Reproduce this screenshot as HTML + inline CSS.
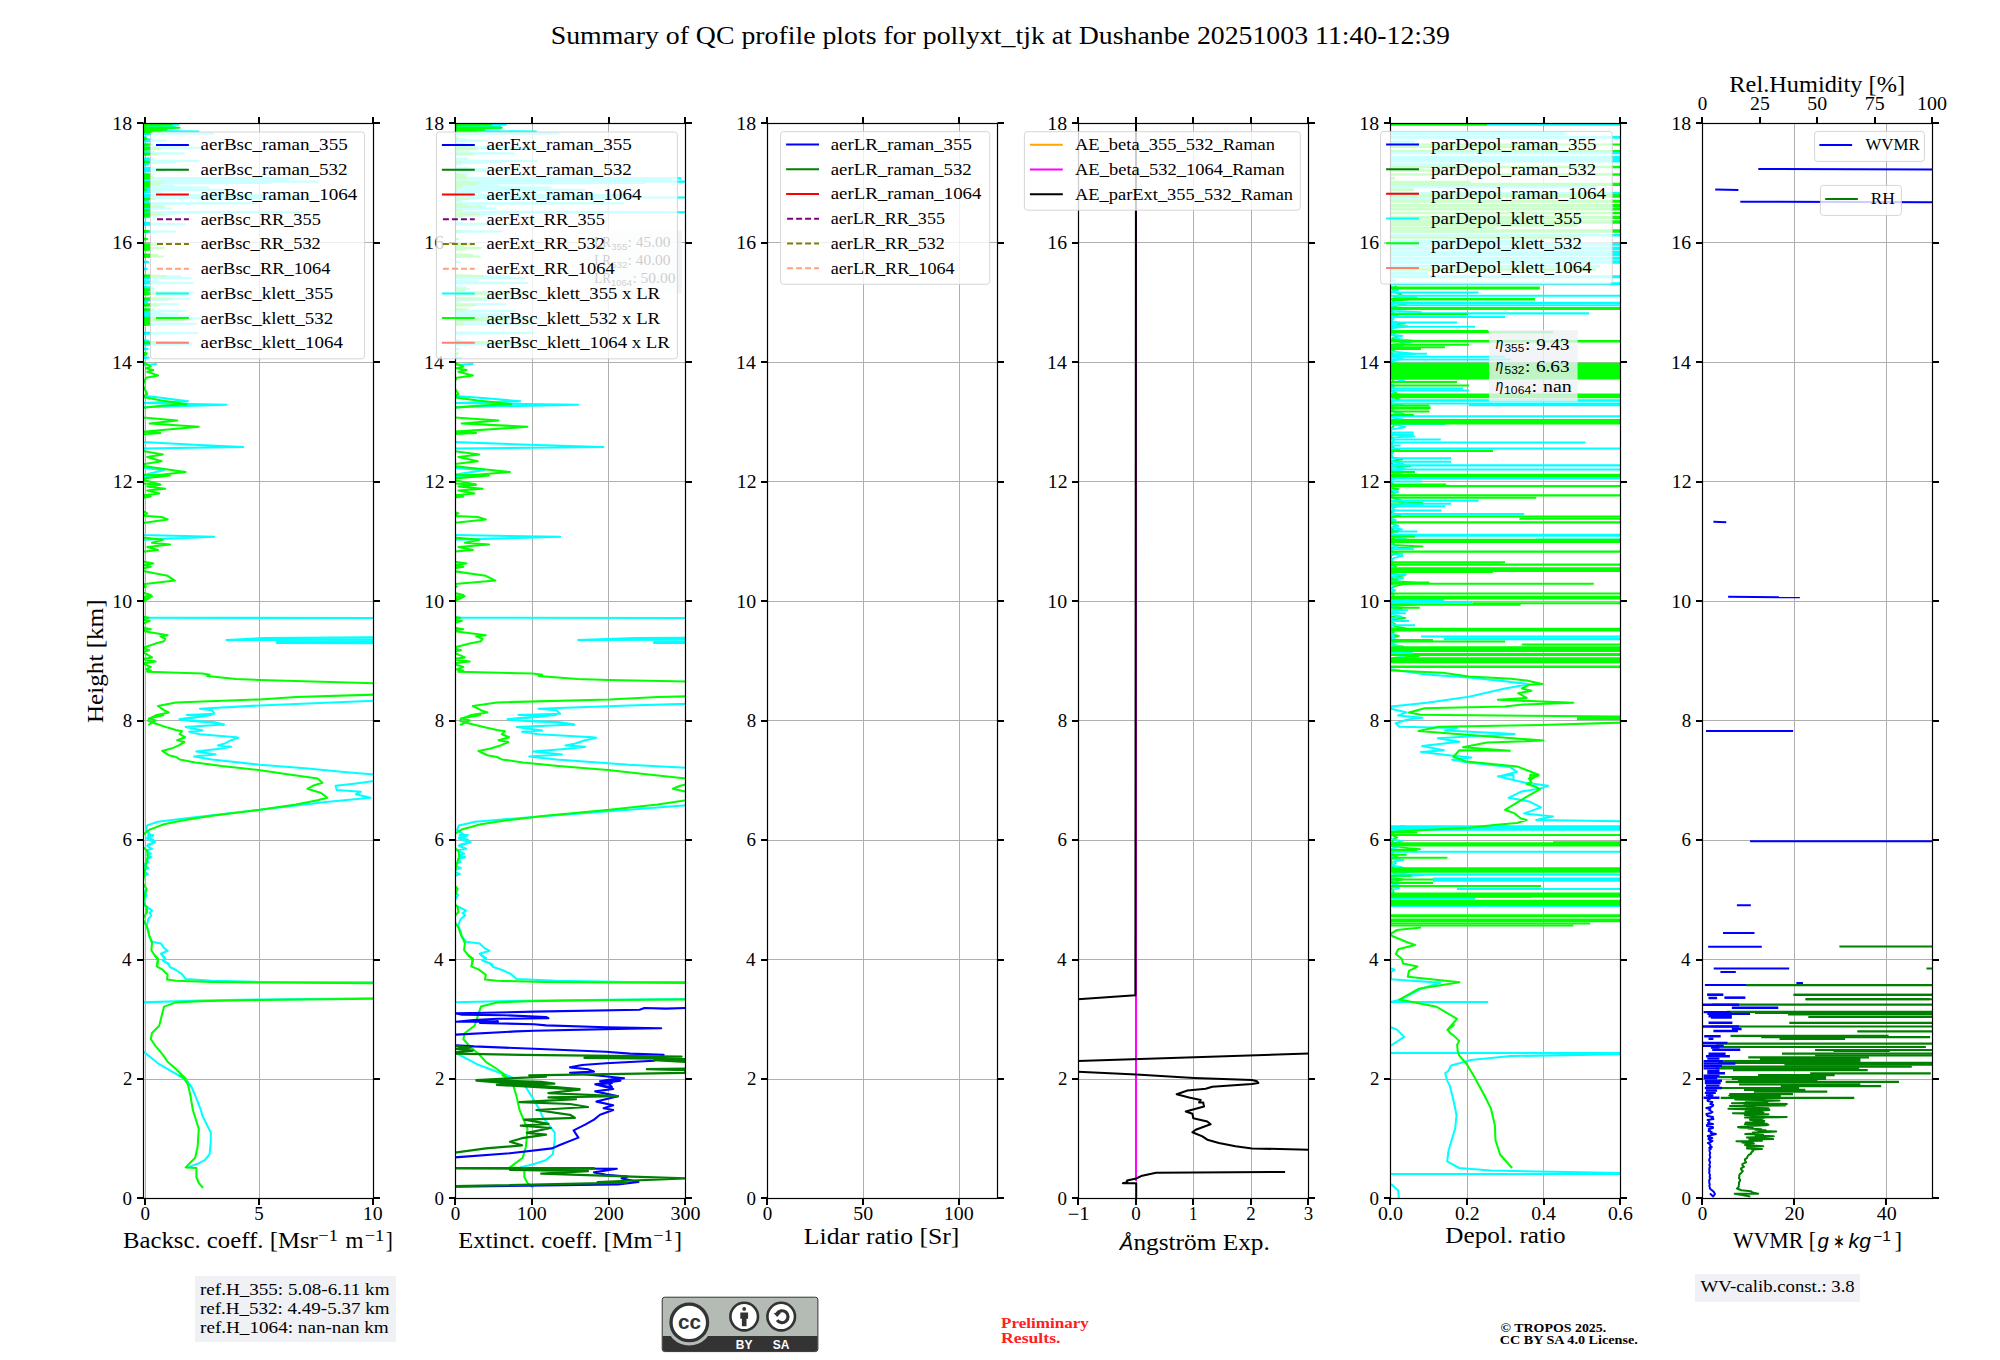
<!DOCTYPE html><html><head><meta charset="utf-8"><style>html,body{margin:0;padding:0;background:#fff;overflow:hidden;}svg{display:block;}domain{display:none;}</style></head><body><domain style="display:none">Chart</domain>
<svg width="2000" height="1360" viewBox="0 0 2000 1360" font-family="'Liberation Serif', serif">
<rect width="2000" height="1360" fill="#fff"/>
<defs>
<clipPath id="c0"><rect x="143.50" y="123.5" width="230.0" height="1075.00"/></clipPath>
<clipPath id="c1"><rect x="455.50" y="123.5" width="230.0" height="1075.00"/></clipPath>
<clipPath id="c2"><rect x="767.50" y="123.5" width="230.0" height="1075.00"/></clipPath>
<clipPath id="c3"><rect x="1078.50" y="123.5" width="230.0" height="1075.00"/></clipPath>
<clipPath id="c4"><rect x="1390.50" y="123.5" width="230.0" height="1075.00"/></clipPath>
<clipPath id="c5"><rect x="1702.50" y="123.5" width="230.0" height="1075.00"/></clipPath>
</defs>
<text x="550.72" y="43.80" font-size="24.98" textLength="899.16" lengthAdjust="spacingAndGlyphs" fill="#000" >Summary of QC profile plots for pollyxt_tjk at Dushanbe 20251003 11:40-12:39</text>
<line x1="145.50" y1="123.5" x2="145.50" y2="1198.5" stroke="#b0b0b0" stroke-width="1"/>
<line x1="259.50" y1="123.5" x2="259.50" y2="1198.5" stroke="#b0b0b0" stroke-width="1"/>
<line x1="373.50" y1="123.5" x2="373.50" y2="1198.5" stroke="#b0b0b0" stroke-width="1"/>
<line x1="143.5" y1="1198.50" x2="373.50" y2="1198.50" stroke="#b0b0b0" stroke-width="1"/>
<line x1="143.5" y1="1079.50" x2="373.50" y2="1079.50" stroke="#b0b0b0" stroke-width="1"/>
<line x1="143.5" y1="959.50" x2="373.50" y2="959.50" stroke="#b0b0b0" stroke-width="1"/>
<line x1="143.5" y1="840.50" x2="373.50" y2="840.50" stroke="#b0b0b0" stroke-width="1"/>
<line x1="143.5" y1="720.50" x2="373.50" y2="720.50" stroke="#b0b0b0" stroke-width="1"/>
<line x1="143.5" y1="601.50" x2="373.50" y2="601.50" stroke="#b0b0b0" stroke-width="1"/>
<line x1="143.5" y1="481.50" x2="373.50" y2="481.50" stroke="#b0b0b0" stroke-width="1"/>
<line x1="143.5" y1="362.50" x2="373.50" y2="362.50" stroke="#b0b0b0" stroke-width="1"/>
<line x1="143.5" y1="242.50" x2="373.50" y2="242.50" stroke="#b0b0b0" stroke-width="1"/>
<line x1="143.5" y1="123.50" x2="373.50" y2="123.50" stroke="#b0b0b0" stroke-width="1"/>
<path d="M137.00 1198.00H143.50M373.50 1198.00H380.00M137.00 1079.00H143.50M373.50 1079.00H380.00M137.00 960.00H143.50M373.50 960.00H380.00M137.00 840.00H143.50M373.50 840.00H380.00M137.00 721.00H143.50M373.50 721.00H380.00M137.00 601.00H143.50M373.50 601.00H380.00M137.00 482.00H143.50M373.50 482.00H380.00M137.00 362.00H143.50M373.50 362.00H380.00M137.00 243.00H143.50M373.50 243.00H380.00M137.00 123.00H143.50M373.50 123.00H380.00M145.00 1198.50V1205.00M145.00 123.50V117.00M259.00 1198.50V1205.00M259.00 123.50V117.00M373.00 1198.50V1205.00M373.00 123.50V117.00" stroke="#000" stroke-width="2" fill="none"/>
<text x="122.61" y="1204.80" font-size="17.92" textLength="9.51" lengthAdjust="spacingAndGlyphs" fill="#000" >0</text>
<text x="123.03" y="1085.36" font-size="17.92" textLength="9.40" lengthAdjust="spacingAndGlyphs" fill="#000" >2</text>
<text x="122.14" y="965.91" font-size="17.92" textLength="9.55" lengthAdjust="spacingAndGlyphs" fill="#000" >4</text>
<text x="122.52" y="846.47" font-size="17.92" textLength="9.45" lengthAdjust="spacingAndGlyphs" fill="#000" >6</text>
<text x="122.65" y="727.02" font-size="17.92" textLength="9.46" lengthAdjust="spacingAndGlyphs" fill="#000" >8</text>
<text x="112.30" y="607.58" font-size="17.92" textLength="19.84" lengthAdjust="spacingAndGlyphs" fill="#000" >10</text>
<text x="112.84" y="488.13" font-size="17.92" textLength="19.64" lengthAdjust="spacingAndGlyphs" fill="#000" >12</text>
<text x="112.08" y="368.69" font-size="17.92" textLength="19.61" lengthAdjust="spacingAndGlyphs" fill="#000" >14</text>
<text x="112.27" y="249.24" font-size="17.92" textLength="19.72" lengthAdjust="spacingAndGlyphs" fill="#000" >16</text>
<text x="112.30" y="129.80" font-size="17.92" textLength="19.84" lengthAdjust="spacingAndGlyphs" fill="#000" >18</text>
<text x="140.45" y="1220.00" font-size="17.92" textLength="9.51" lengthAdjust="spacingAndGlyphs" fill="#000" >0</text>
<text x="254.32" y="1220.00" font-size="17.92" textLength="9.44" lengthAdjust="spacingAndGlyphs" fill="#000" >5</text>
<text x="362.79" y="1220.00" font-size="17.92" textLength="19.84" lengthAdjust="spacingAndGlyphs" fill="#000" >10</text>
<g clip-path="url(#c0)" fill="none" stroke-linejoin="round" stroke-linecap="butt">
<polyline points="142.8,123.8 178.5,124.4 142.8,125.0 142.8,125.9 174.6,126.5 142.8,127.1 142.8,127.7 174.9,128.3 142.8,128.9 142.8,129.5 149.2,130.1 142.8,130.7 142.8,131.0 198.4,131.6 142.8,132.2 142.8,132.9 213.4,133.5 142.8,134.1 142.8,135.1 142.8,137.0 146.2,137.6 142.8,138.2 142.8,138.8 152.2,139.4 142.8,140.0 142.8,140.2 165.9,140.8 142.8,141.4 142.8,141.8 142.8,143.6 142.8,145.4 142.8,147.1 199.8,147.7 142.8,148.3 142.8,149.2 142.8,151.3 154.0,151.9 142.8,152.5 142.8,152.8 184.2,153.4 142.8,154.0 142.8,154.4 142.8,156.0 142.8,158.2 153.1,158.8 142.8,159.4 142.8,160.4 198.6,161.0 142.8,161.6 142.8,162.0 175.6,162.6 142.8,163.2 142.8,163.9 148.3,164.5 142.8,165.1 142.8,165.5 142.8,167.6 154.7,168.2 142.8,168.8 142.8,168.9 186.2,169.5 142.8,170.1 142.8,170.3 165.0,170.9 142.8,171.5 142.8,171.7 142.8,172.9 142.8,174.0 153.2,174.6 142.8,175.2 142.8,175.5 142.8,177.7 294.4,178.3 142.8,178.9 142.8,179.1 287.8,179.7 142.8,180.3 142.8,181.0 317.6,181.6 142.8,182.2 142.8,182.4 270.4,183.0 142.8,183.6 142.8,183.9 151.8,184.5 142.8,185.1 142.8,185.2 173.7,185.8 142.8,186.4 142.8,187.0 208.2,187.6 142.8,188.2 142.8,189.2 230.7,189.8 142.8,190.4 142.8,191.2 161.3,191.8 142.8,192.4 142.8,193.3 142.8,194.7 263.5,195.3 142.8,195.9 142.8,196.9 308.8,197.5 142.8,198.1 142.8,198.9 142.8,200.6 148.5,201.2 142.8,201.8 142.8,202.7 256.4,203.3 142.8,203.9 142.8,204.2 142.8,206.1 164.1,206.7 142.8,207.3 142.8,208.0 171.5,208.6 142.8,209.2 142.8,209.8 142.8,211.7 301.5,212.3 142.8,212.9 142.8,213.1 177.6,213.7 142.8,214.3 142.8,214.7 164.2,215.3 142.8,215.9 142.8,216.3 149.2,216.9 142.8,217.5 142.8,217.9 142.8,220.3 142.8,222.4 149.4,223.0 142.8,223.6 142.8,223.6 184.9,224.2 142.8,224.8 142.8,225.5 142.8,226.5 142.8,228.3 142.8,229.7 142.8,230.9 175.6,231.5 142.8,232.1 142.8,233.0 142.8,235.0 142.8,237.4 142.8,239.4 142.8,241.7 142.8,243.9 142.8,245.8 142.8,247.3 142.8,249.3 142.8,251.2 142.8,253.5 142.8,255.1 142.8,257.0 142.8,259.2 142.8,261.4 148.1,262.0 142.8,262.6 142.8,263.0 142.8,265.1 142.8,267.0 142.8,268.4 146.8,269.0 142.8,269.6 142.8,270.3 142.8,271.5 142.8,273.5 142.8,275.9 180.8,276.5 142.8,277.1 142.8,277.3 190.6,277.9 142.8,278.5 142.8,279.4 142.8,280.9 159.2,281.5 142.8,282.1 142.8,282.3 192.8,282.9 142.8,283.5 142.8,284.3 142.8,286.8 151.9,287.4 142.8,288.0 142.8,288.4 154.0,289.0 142.8,289.6 142.8,290.0 142.8,291.8 193.0,292.4 142.8,293.0 142.8,293.9 148.0,294.5 142.8,295.1 142.8,295.2 142.8,296.2 142.8,298.1 189.5,298.7 142.8,299.3 142.8,299.3 167.2,299.9 142.8,300.5 142.8,300.5 142.8,301.9 147.1,302.5 142.8,303.1 142.8,303.7 178.4,304.3 142.8,304.9 142.8,305.6 142.8,308.0 142.8,309.3 152.3,309.9 142.8,310.5 142.8,310.5 184.1,311.1 142.8,311.7 142.8,311.9 160.8,312.5 142.8,313.1 142.8,313.8 177.3,314.4 142.8,315.0 142.8,315.8 189.6,316.4 142.8,317.0 142.8,317.9 199.9,318.5 142.8,319.1 142.8,319.8 167.1,320.4 142.8,321.0 142.8,321.6 142.8,323.2 195.9,323.8 142.8,324.4 142.8,325.2 142.8,326.9 142.8,328.2 142.8,330.4 142.8,332.5 197.4,333.1 142.8,333.7 142.8,334.7 142.8,336.5 142.8,338.0 142.8,340.2 148.3,340.8 142.8,341.4 142.8,341.9 187.9,342.5 142.8,343.1 142.8,343.6 190.8,344.2 142.8,344.8 142.8,344.8 142.8,346.1 142.8,348.3 147.6,348.9 142.8,349.5 142.8,350.0 142.8,352.2 142.8,354.7 142.8,357.1 148.7,357.7 142.8,358.3 142.8,358.8 142.8,360.9" stroke="#00ffff" stroke-width="2.05"/>
<polyline points="142.8,123.8 171.5,124.4 142.8,125.0 142.8,125.7 146.1,126.3 142.8,126.9 142.8,127.2 179.5,127.8 142.8,128.4 142.8,129.1 166.6,129.7 142.8,130.3 142.8,131.0 161.1,131.6 142.8,132.2 142.8,132.4 142.8,133.4 142.8,134.6 142.8,136.1 142.8,138.3 146.5,138.9 142.8,139.5 142.8,140.4 142.8,141.6 142.8,144.0 152.2,144.6 142.8,145.2 142.8,145.3 142.8,147.3 157.9,147.9 142.8,148.5 142.8,148.5 160.6,149.1 142.8,149.7 142.8,150.1 142.8,152.0 142.8,153.6 158.5,154.2 142.8,154.8 142.8,155.8 142.8,157.7 142.8,159.3 142.8,161.3 148.9,161.9 142.8,162.5 142.8,162.9 142.8,165.1 142.8,166.1 142.8,167.8 142.8,169.1 142.8,170.7 142.8,171.8 142.8,173.1 142.8,174.2 150.7,174.8 142.8,175.4 142.8,176.0 152.9,176.6 142.8,177.2 142.8,177.4 153.2,178.0 142.8,178.6 142.8,179.6 142.8,182.0 163.2,182.6 142.8,183.2 142.8,183.6 159.0,184.2 142.8,184.8 142.8,185.7 149.4,186.3 142.8,186.9 142.8,187.6 142.8,189.0 146.3,189.6 142.8,190.2 142.8,190.8 142.8,193.3 142.8,194.4 142.8,196.5 142.8,198.5 154.3,199.1 142.8,199.7 142.8,200.2 142.8,201.6 142.8,203.9 149.8,204.5 142.8,205.1 142.8,206.0 163.6,206.6 142.8,207.2 142.8,207.7 142.8,209.8 149.7,210.4 142.8,211.0 142.8,211.2 142.8,213.3 162.2,213.9 142.8,214.5 142.8,214.9 152.4,215.5 142.8,216.1 142.8,217.1 142.8,219.0 142.8,221.4 142.8,223.1 142.8,225.4 142.8,227.3 142.8,228.8 142.8,230.7 148.6,231.3 142.8,231.9 142.8,232.8 142.8,235.1 142.8,236.9 142.8,238.5 147.0,239.1 142.8,239.7 142.8,240.0 142.8,242.1 142.8,244.0 158.8,244.6 142.8,245.2 142.8,245.9 150.7,246.5 142.8,247.1 142.8,247.5 163.7,248.1 142.8,248.7 142.8,248.8 152.4,249.4 142.8,250.0 142.8,250.7 142.8,252.7 142.8,254.3 157.4,254.9 142.8,255.5 142.8,255.9 163.1,256.5 142.8,257.1 142.8,257.5 142.8,258.9 142.8,260.0 142.8,261.4 142.8,263.0 142.8,265.4 142.8,267.4 142.8,269.1 142.8,271.4 142.8,273.1 142.8,275.3 165.7,275.9 142.8,276.5 142.8,277.3 142.8,279.3 142.8,281.8 142.8,283.8 142.8,285.9 142.8,287.6 142.8,289.1 152.4,289.7 142.8,290.3 142.8,290.9 146.8,291.5 142.8,292.1 142.8,292.9 186.4,293.5 142.8,294.1 142.8,294.7 142.8,297.0 142.8,298.4 170.7,299.0 142.8,299.6 142.8,300.5 142.8,302.7 142.8,304.6 159.7,305.2 142.8,305.8 142.8,306.2 142.8,307.8 142.8,309.0 153.4,309.6 142.8,310.2 142.8,311.2 142.8,312.3 142.8,314.6 142.8,316.1 142.8,317.6 182.5,318.2 142.8,318.8 142.8,319.6 183.3,320.2 142.8,320.8 142.8,320.8 142.8,321.9 150.2,322.5 142.8,323.1 142.8,323.8 151.1,324.4 142.8,325.0 142.8,325.2 142.8,327.5 142.8,328.6 142.8,330.4 142.8,332.2 142.8,334.4 142.8,336.4 142.8,338.3 142.8,339.9 142.8,342.0 185.8,342.6 142.8,343.2 142.8,343.7 142.8,345.7 142.8,347.8 142.8,349.4 142.8,351.5 142.8,352.7 146.8,353.3 142.8,353.9 142.8,354.0 146.0,354.6 142.8,355.2 142.8,355.4 142.8,357.4 142.8,359.9" stroke="#00ff00" stroke-width="2.05"/>
<polyline points="156.8,364.0 142.8,365.2 142.8,395.8 159.2,397.6 188.0,401.2 142.8,403.0 226.4,404.8 142.8,407.2 142.8,442.0 198.8,445.0 243.2,447.0 142.8,448.6 142.8,467.8 164.0,470.2 142.8,475.0 142.8,485.0" stroke="#00ffff" stroke-width="2.05"/>
<polyline points="142.8,362.2 150.8,366.4 146.0,368.2 153.2,370.0 147.2,371.8 158.0,375.4 146.0,377.8 142.8,385.0 147.2,394.0 142.8,397.0 161.6,400.6 186.8,404.2 164.0,405.4 142.8,407.8 142.8,417.4 177.2,420.4 149.6,423.4 198.8,426.8 142.8,431.8 160.4,433.0 142.8,434.2 142.8,451.0 162.8,454.6 147.2,457.0 161.6,461.2 142.8,464.2 142.8,466.0 185.6,472.0 147.2,476.2 142.8,479.8 160.4,484.6" stroke="#00ff00" stroke-width="2.05"/>
<polyline points="142.8,475.0 162.8,476.2 142.8,477.4 142.8,535.0 214.4,536.8 142.8,539.8 142.8,605.0" stroke="#00ffff" stroke-width="2.05"/>
<polyline points="142.8,475.0 170.0,475.6 142.8,478.6 142.8,483.4 160.4,484.8 147.2,486.4 165.2,488.8 147.2,490.6 159.2,493.6 142.8,495.4 150.8,496.6 142.8,497.8 142.8,511.0 147.2,513.4 142.8,515.8 161.6,517.0 167.6,519.4 142.8,523.0 142.8,537.4 162.8,539.8 152.0,542.8 170.0,544.6 147.2,547.0 158.0,550.0 142.8,551.8 142.8,561.4 153.2,563.4 142.8,565.0 150.8,566.8 142.8,568.6 142.8,571.0 167.6,575.8 174.8,580.6 142.8,584.2 146.0,586.6 142.8,587.8 142.8,592.6 150.8,595.0 142.8,597.4 142.8,599.8" stroke="#00ff00" stroke-width="2.05"/>
<polyline points="142.8,595.0 142.8,617.8 375.2,618.0" stroke="#00ffff" stroke-width="2.05"/>
<polyline points="375.2,637.2 264.8,638.0 226.4,640.0 375.2,639.6" stroke="#00ffff" stroke-width="2.05"/>
<polyline points="375.2,641.2 276.8,642.0 276.8,643.0 375.2,643.2" stroke="#00ffff" stroke-width="2.05"/>
<polyline points="142.8,599.8 152.0,596.2 142.8,602.2 142.8,616.6 148.4,617.8 142.8,619.6 149.6,620.8 142.8,623.8 142.8,627.4 150.8,629.2 142.8,630.4 142.8,631.0 153.2,632.8 167.6,635.2 160.4,636.4 165.2,638.8 164.0,641.2 155.6,643.6 148.4,646.0 142.8,647.8 149.0,650.2 142.8,652.0 152.0,657.4 142.8,659.2 155.6,661.6 142.8,663.4 150.8,667.0 146.0,669.4 150.8,670.6 147.2,671.8 202.4,673.6 209.6,674.8 207.2,676.0 236.0,679.0 260.0,680.0 375.2,683.2" stroke="#00ff00" stroke-width="2.05"/>
<polyline points="375.2,694.6 296.0,697.0 260.0,699.4 176.0,702.4 158.0,706.0 164.0,710.2 168.8,712.4 156.8,715.0 149.6,718.6 155.6,720.4 148.4,725.0" stroke="#00ff00" stroke-width="2.05"/>
<polyline points="375.2,700.8 260.0,705.4 200.0,708.8 212.0,710.2 214.4,713.8 186.8,715.0 204.8,716.2 179.6,719.2 194.0,721.0 212.0,722.2 224.0,725.0" stroke="#00ffff" stroke-width="2.05"/>
<polyline points="212.0,715.0 179.6,719.2 192.8,721.0 214.4,722.2 224.0,724.6 185.6,727.0 202.4,730.6 189.2,731.8 200.0,734.2 236.0,737.2 238.4,737.8 231.2,740.2 224.0,743.8 218.0,745.6 231.2,746.8 221.6,748.6 196.4,751.6 215.6,754.6 194.0,756.4 212.0,759.4 260.0,764.8 308.0,768.4 344.0,772.0 375.2,774.6" stroke="#00ffff" stroke-width="2.05"/>
<polyline points="375.2,780.8 356.0,783.4 335.6,785.8 336.8,790.0 360.8,791.8 356.0,794.2 370.4,797.8 326.0,802.0 296.0,805.6 260.0,809.8 212.0,815.2 176.0,819.4 158.0,821.8 147.2,825.4 146.0,830.2 152.0,836.2 147.2,838.6 154.4,842.2 147.2,845.0" stroke="#00ffff" stroke-width="2.05"/>
<polyline points="164.0,715.0 149.0,718.6 148.4,721.0 156.8,724.0 167.6,727.6 176.0,730.0 182.0,731.2 179.6,734.2 185.0,737.2 177.2,740.2 184.4,742.0 178.4,745.6 171.2,748.6 162.2,751.0 168.8,755.2 176.0,757.0 179.6,759.4 195.2,762.4 221.6,766.0 258.8,770.0 284.0,773.8 317.6,778.6 322.4,782.8 312.8,785.8 307.4,788.8 321.2,793.0 327.2,797.8 317.6,800.2 296.0,804.4 260.0,809.8 212.0,815.8 182.0,820.6 164.0,824.2 149.6,829.6 142.8,835.0 142.8,845.0" stroke="#00ff00" stroke-width="2.05"/>
<polyline points="147.2,835.0 153.2,835.0 147.2,837.4 153.2,839.8 155.0,842.2 147.2,845.8 152.0,848.8 146.0,850.6 150.8,853.6 147.2,855.4 151.4,857.2 146.6,859.0 148.4,862.0 142.8,865.0 148.4,868.0 142.8,871.0 147.8,874.0 142.8,877.0 142.8,889.0 146.6,895.0 142.8,904.6 147.2,907.0 152.0,910.6 149.6,913.0 151.4,915.4 148.4,919.0 146.6,926.2 148.4,931.0 149.0,935.8 152.0,941.8 161.0,943.6 164.0,947.8 167.6,950.8 161.0,953.8 165.2,958.0 162.8,960.4 168.8,964.0 170.0,965.0" stroke="#00ffff" stroke-width="2.05"/>
<polyline points="142.8,835.0 142.8,847.0 147.2,850.6 147.8,856.6 146.0,863.8 142.8,883.0 146.6,889.0 142.8,902.2 146.6,907.0 147.2,911.8 142.8,919.0 147.2,927.4 149.0,934.6 152.0,943.0 151.4,950.2 154.4,955.0 158.0,959.8 157.4,965.0" stroke="#00ff00" stroke-width="2.05"/>
<polyline points="161.6,955.0 165.2,958.6 162.8,960.4 167.6,963.4 170.0,967.0 176.0,970.0 182.0,974.2 185.6,979.0 212.0,980.8 260.0,982.0 375.2,982.4" stroke="#00ffff" stroke-width="2.05"/>
<polyline points="375.2,998.2 260.0,999.4 200.0,1000.4 142.8,1002.4 142.8,1051.0 159.2,1064.2 176.0,1073.8 184.4,1078.6 190.4,1085.0" stroke="#00ffff" stroke-width="2.05"/>
<polyline points="154.4,955.0 158.0,958.6 156.8,966.4 162.2,969.4 167.6,974.8 167.0,979.6 176.0,980.8 212.0,982.0 260.0,982.6 375.2,983.2" stroke="#00ff00" stroke-width="2.05"/>
<polyline points="375.2,998.8 260.0,1000.0 200.0,1001.2 176.0,1002.4 164.0,1006.6 160.4,1021.0 159.2,1025.8 152.0,1033.0 150.8,1039.0 155.6,1046.2 162.8,1054.6 167.6,1061.8 176.0,1069.0 185.6,1078.6 189.2,1085.0" stroke="#00ff00" stroke-width="2.05"/>
<polyline points="178.4,1075.0 185.6,1079.8 191.6,1087.0 197.6,1101.4 201.2,1111.0 202.4,1115.8 210.8,1132.6 210.8,1141.0 209.6,1154.2 204.8,1160.2 197.6,1163.8 188.0,1167.4" stroke="#00ffff" stroke-width="2.05"/>
<polyline points="179.6,1075.0 184.4,1078.6 188.0,1084.6 190.4,1095.4 192.8,1109.8 198.8,1129.0 197.6,1147.0 195.2,1157.8 185.6,1167.4 196.4,1168.0 196.4,1177.0 198.8,1183.0 203.0,1187.8" stroke="#00ff00" stroke-width="2.05"/>
</g>
<rect x="143.50" y="123.5" width="230.0" height="1075.00" fill="none" stroke="#000" stroke-width="1.2"/>
<rect x="150.50" y="132.00" width="214.10" height="226.84" rx="3" fill="#fff" fill-opacity="0.8" stroke="#cccccc" stroke-opacity="0.8" stroke-width="1"/>
<line x1="156.00" y1="145.00" x2="188.90" y2="145.00" stroke="#0000ff" stroke-width="2"/>
<text x="200.63" y="150.40" font-size="17.14" textLength="147.07" lengthAdjust="spacingAndGlyphs" fill="#000" >aerBsc_raman_355</text>
<line x1="156.00" y1="169.73" x2="188.90" y2="169.73" stroke="#008000" stroke-width="2"/>
<text x="200.63" y="175.13" font-size="17.14" textLength="147.01" lengthAdjust="spacingAndGlyphs" fill="#000" >aerBsc_raman_532</text>
<line x1="156.00" y1="194.46" x2="188.90" y2="194.46" stroke="#ff0000" stroke-width="2"/>
<text x="200.63" y="199.86" font-size="17.14" textLength="156.70" lengthAdjust="spacingAndGlyphs" fill="#000" >aerBsc_raman_1064</text>
<line x1="157.00" y1="219.19" x2="188.90" y2="219.19" stroke="#800080" stroke-width="2" stroke-dasharray="6 3"/>
<text x="200.66" y="224.59" font-size="17.14" textLength="120.14" lengthAdjust="spacingAndGlyphs" fill="#000" >aerBsc_RR_355</text>
<line x1="157.00" y1="243.92" x2="188.90" y2="243.92" stroke="#808000" stroke-width="2" stroke-dasharray="6 3"/>
<text x="200.66" y="249.32" font-size="17.14" textLength="120.07" lengthAdjust="spacingAndGlyphs" fill="#000" >aerBsc_RR_532</text>
<line x1="157.00" y1="268.65" x2="188.90" y2="268.65" stroke="#ffa07a" stroke-width="2" stroke-dasharray="6 3"/>
<text x="200.66" y="274.05" font-size="17.14" textLength="129.82" lengthAdjust="spacingAndGlyphs" fill="#000" >aerBsc_RR_1064</text>
<line x1="156.00" y1="293.38" x2="188.90" y2="293.38" stroke="#00ffff" stroke-width="2"/>
<text x="200.64" y="298.78" font-size="17.14" textLength="132.67" lengthAdjust="spacingAndGlyphs" fill="#000" >aerBsc_klett_355</text>
<line x1="156.00" y1="318.11" x2="188.90" y2="318.11" stroke="#00ff00" stroke-width="2"/>
<text x="200.64" y="323.51" font-size="17.14" textLength="132.61" lengthAdjust="spacingAndGlyphs" fill="#000" >aerBsc_klett_532</text>
<line x1="156.00" y1="342.84" x2="188.90" y2="342.84" stroke="#fa8072" stroke-width="2"/>
<text x="200.64" y="348.24" font-size="17.14" textLength="142.33" lengthAdjust="spacingAndGlyphs" fill="#000" >aerBsc_klett_1064</text>
<line x1="455.50" y1="123.5" x2="455.50" y2="1198.5" stroke="#b0b0b0" stroke-width="1"/>
<line x1="532.50" y1="123.5" x2="532.50" y2="1198.5" stroke="#b0b0b0" stroke-width="1"/>
<line x1="608.50" y1="123.5" x2="608.50" y2="1198.5" stroke="#b0b0b0" stroke-width="1"/>
<line x1="685.50" y1="123.5" x2="685.50" y2="1198.5" stroke="#b0b0b0" stroke-width="1"/>
<line x1="455.5" y1="1198.50" x2="685.50" y2="1198.50" stroke="#b0b0b0" stroke-width="1"/>
<line x1="455.5" y1="1079.50" x2="685.50" y2="1079.50" stroke="#b0b0b0" stroke-width="1"/>
<line x1="455.5" y1="959.50" x2="685.50" y2="959.50" stroke="#b0b0b0" stroke-width="1"/>
<line x1="455.5" y1="840.50" x2="685.50" y2="840.50" stroke="#b0b0b0" stroke-width="1"/>
<line x1="455.5" y1="720.50" x2="685.50" y2="720.50" stroke="#b0b0b0" stroke-width="1"/>
<line x1="455.5" y1="601.50" x2="685.50" y2="601.50" stroke="#b0b0b0" stroke-width="1"/>
<line x1="455.5" y1="481.50" x2="685.50" y2="481.50" stroke="#b0b0b0" stroke-width="1"/>
<line x1="455.5" y1="362.50" x2="685.50" y2="362.50" stroke="#b0b0b0" stroke-width="1"/>
<line x1="455.5" y1="242.50" x2="685.50" y2="242.50" stroke="#b0b0b0" stroke-width="1"/>
<line x1="455.5" y1="123.50" x2="685.50" y2="123.50" stroke="#b0b0b0" stroke-width="1"/>
<path d="M449.00 1198.00H455.50M685.50 1198.00H692.00M449.00 1079.00H455.50M685.50 1079.00H692.00M449.00 960.00H455.50M685.50 960.00H692.00M449.00 840.00H455.50M685.50 840.00H692.00M449.00 721.00H455.50M685.50 721.00H692.00M449.00 601.00H455.50M685.50 601.00H692.00M449.00 482.00H455.50M685.50 482.00H692.00M449.00 362.00H455.50M685.50 362.00H692.00M449.00 243.00H455.50M685.50 243.00H692.00M449.00 123.00H455.50M685.50 123.00H692.00M455.00 1198.50V1205.00M455.00 123.50V117.00M532.00 1198.50V1205.00M532.00 123.50V117.00M609.00 1198.50V1205.00M609.00 123.50V117.00M685.00 1198.50V1205.00M685.00 123.50V117.00" stroke="#000" stroke-width="2" fill="none"/>
<text x="434.61" y="1204.80" font-size="17.92" textLength="9.51" lengthAdjust="spacingAndGlyphs" fill="#000" >0</text>
<text x="435.03" y="1085.36" font-size="17.92" textLength="9.40" lengthAdjust="spacingAndGlyphs" fill="#000" >2</text>
<text x="434.14" y="965.91" font-size="17.92" textLength="9.55" lengthAdjust="spacingAndGlyphs" fill="#000" >4</text>
<text x="434.52" y="846.47" font-size="17.92" textLength="9.45" lengthAdjust="spacingAndGlyphs" fill="#000" >6</text>
<text x="434.65" y="727.02" font-size="17.92" textLength="9.46" lengthAdjust="spacingAndGlyphs" fill="#000" >8</text>
<text x="424.30" y="607.58" font-size="17.92" textLength="19.84" lengthAdjust="spacingAndGlyphs" fill="#000" >10</text>
<text x="424.84" y="488.13" font-size="17.92" textLength="19.64" lengthAdjust="spacingAndGlyphs" fill="#000" >12</text>
<text x="424.08" y="368.69" font-size="17.92" textLength="19.61" lengthAdjust="spacingAndGlyphs" fill="#000" >14</text>
<text x="424.27" y="249.24" font-size="17.92" textLength="19.72" lengthAdjust="spacingAndGlyphs" fill="#000" >16</text>
<text x="424.30" y="129.80" font-size="17.92" textLength="19.84" lengthAdjust="spacingAndGlyphs" fill="#000" >18</text>
<text x="450.75" y="1220.00" font-size="17.92" textLength="9.51" lengthAdjust="spacingAndGlyphs" fill="#000" >0</text>
<text x="516.66" y="1220.00" font-size="17.92" textLength="30.02" lengthAdjust="spacingAndGlyphs" fill="#000" >100</text>
<text x="593.73" y="1220.00" font-size="17.92" textLength="30.05" lengthAdjust="spacingAndGlyphs" fill="#000" >200</text>
<text x="670.41" y="1220.00" font-size="17.92" textLength="29.98" lengthAdjust="spacingAndGlyphs" fill="#000" >300</text>
<g clip-path="url(#c1)" fill="none" stroke-linejoin="round" stroke-linecap="butt">
<polyline points="452.2,123.8 505.9,124.4 452.2,125.0 452.2,125.9 500.1,126.5 452.2,127.1 452.2,127.7 500.6,128.3 452.2,128.9 452.2,129.5 461.9,130.1 452.2,130.7 452.2,131.0 536.0,131.6 452.2,132.2 452.2,132.9 558.6,133.5 452.2,134.1 452.2,135.1 452.2,137.0 457.4,137.6 452.2,138.2 452.2,138.8 466.5,139.4 452.2,140.0 452.2,140.2 487.0,140.8 452.2,141.4 452.2,141.8 452.2,143.6 452.2,145.4 452.2,147.1 538.1,147.7 452.2,148.3 452.2,149.2 452.2,151.3 469.1,151.9 452.2,152.5 452.2,152.8 514.6,153.4 452.2,154.0 452.2,154.4 452.2,156.0 452.2,158.2 467.7,158.8 452.2,159.4 452.2,160.4 536.3,161.0 452.2,161.6 452.2,162.0 501.6,162.6 452.2,163.2 452.2,163.9 460.5,164.5 452.2,165.1 452.2,165.5 452.2,167.6 470.2,168.2 452.2,168.8 452.2,168.9 517.6,169.5 452.2,170.1 452.2,170.3 485.6,170.9 452.2,171.5 452.2,171.7 452.2,172.9 452.2,174.0 467.9,174.6 452.2,175.2 452.2,175.5 452.2,177.7 680.6,178.3 452.2,178.9 452.2,179.1 670.6,179.7 452.2,180.3 452.2,181.0 715.5,181.6 452.2,182.2 452.2,182.4 644.5,183.0 452.2,183.6 452.2,183.9 465.8,184.5 452.2,185.1 452.2,185.2 498.7,185.8 452.2,186.4 452.2,187.0 550.7,187.6 452.2,188.2 452.2,189.2 584.6,189.8 452.2,190.4 452.2,191.2 480.1,191.8 452.2,192.4 452.2,193.3 452.2,194.7 634.0,195.3 452.2,195.9 452.2,196.9 702.2,197.5 452.2,198.1 452.2,198.9 452.2,200.6 460.9,201.2 452.2,201.8 452.2,202.7 623.3,203.3 452.2,203.9 452.2,204.2 452.2,206.1 484.3,206.7 452.2,207.3 452.2,208.0 495.5,208.6 452.2,209.2 452.2,209.8 452.2,211.7 691.3,212.3 452.2,212.9 452.2,213.1 504.6,213.7 452.2,214.3 452.2,214.7 484.5,215.3 452.2,215.9 452.2,216.3 461.8,216.9 452.2,217.5 452.2,217.9 452.2,220.3 452.2,222.4 462.2,223.0 452.2,223.6 452.2,223.6 515.7,224.2 452.2,224.8 452.2,225.5 452.2,226.5 452.2,228.3 452.2,229.7 452.2,230.9 501.6,231.5 452.2,232.1 452.2,233.0 452.2,235.0 452.2,237.4 452.2,239.4 452.2,241.7 452.2,243.9 452.2,245.8 452.2,247.3 452.2,249.3 452.2,251.2 452.2,253.5 452.2,255.1 452.2,257.0 452.2,259.2 452.2,261.4 460.2,262.0 452.2,262.6 452.2,263.0 452.2,265.1 452.2,267.0 452.2,268.4 458.3,269.0 452.2,269.6 452.2,270.3 452.2,271.5 452.2,273.5 452.2,275.9 509.4,276.5 452.2,277.1 452.2,277.3 524.2,277.9 452.2,278.5 452.2,279.4 452.2,280.9 477.0,281.5 452.2,282.1 452.2,282.3 527.6,282.9 452.2,283.5 452.2,284.3 452.2,286.8 465.9,287.4 452.2,288.0 452.2,288.4 469.0,289.0 452.2,289.6 452.2,290.0 452.2,291.8 527.8,292.4 452.2,293.0 452.2,293.9 460.1,294.5 452.2,295.1 452.2,295.2 452.2,296.2 452.2,298.1 522.6,298.7 452.2,299.3 452.2,299.3 489.0,299.9 452.2,300.5 452.2,300.5 452.2,301.9 458.7,302.5 452.2,303.1 452.2,303.7 505.8,304.3 452.2,304.9 452.2,305.6 452.2,308.0 452.2,309.3 466.5,309.9 452.2,310.5 452.2,310.5 514.4,311.1 452.2,311.7 452.2,311.9 479.4,312.5 452.2,313.1 452.2,313.8 504.2,314.4 452.2,315.0 452.2,315.8 522.7,316.4 452.2,317.0 452.2,317.9 538.2,318.5 452.2,319.1 452.2,319.8 488.8,320.4 452.2,321.0 452.2,321.6 452.2,323.2 532.2,323.8 452.2,324.4 452.2,325.2 452.2,326.9 452.2,328.2 452.2,330.4 452.2,332.5 534.5,333.1 452.2,333.7 452.2,334.7 452.2,336.5 452.2,338.0 452.2,340.2 460.5,340.8 452.2,341.4 452.2,341.9 520.1,342.5 452.2,343.1 452.2,343.6 524.5,344.2 452.2,344.8 452.2,344.8 452.2,346.1 452.2,348.3 459.5,348.9 452.2,349.5 452.2,350.0 452.2,352.2 452.2,354.7 452.2,357.1 461.1,357.7 452.2,358.3 452.2,358.8 452.2,360.9" stroke="#00ffff" stroke-width="2.05"/>
<polyline points="452.6,123.8 491.0,124.4 452.6,125.0 452.6,125.7 457.0,126.3 452.6,126.9 452.6,127.2 501.7,127.8 452.6,128.4 452.6,129.1 484.4,129.7 452.6,130.3 452.6,131.0 477.1,131.6 452.6,132.2 452.6,132.4 452.6,133.4 452.6,134.6 452.6,136.1 452.6,138.3 457.5,138.9 452.6,139.5 452.6,140.4 452.6,141.6 452.6,144.0 465.2,144.6 452.6,145.2 452.6,145.3 452.6,147.3 472.7,147.9 452.6,148.5 452.6,148.5 476.4,149.1 452.6,149.7 452.6,150.1 452.6,152.0 452.6,153.6 473.6,154.2 452.6,154.8 452.6,155.8 452.6,157.7 452.6,159.3 452.6,161.3 460.7,161.9 452.6,162.5 452.6,162.9 452.6,165.1 452.6,166.1 452.6,167.8 452.6,169.1 452.6,170.7 452.6,171.8 452.6,173.1 452.6,174.2 463.2,174.8 452.6,175.4 452.6,176.0 466.1,176.6 452.6,177.2 452.6,177.4 466.5,178.0 452.6,178.6 452.6,179.6 452.6,182.0 479.8,182.6 452.6,183.2 452.6,183.6 474.3,184.2 452.6,184.8 452.6,185.7 461.4,186.3 452.6,186.9 452.6,187.6 452.6,189.0 457.2,189.6 452.6,190.2 452.6,190.8 452.6,193.3 452.6,194.4 452.6,196.5 452.6,198.5 467.9,199.1 452.6,199.7 452.6,200.2 452.6,201.6 452.6,203.9 462.0,204.5 452.6,205.1 452.6,206.0 480.4,206.6 452.6,207.2 452.6,207.7 452.6,209.8 461.8,210.4 452.6,211.0 452.6,211.2 452.6,213.3 478.6,213.9 452.6,214.5 452.6,214.9 465.5,215.5 452.6,216.1 452.6,217.1 452.6,219.0 452.6,221.4 452.6,223.1 452.6,225.4 452.6,227.3 452.6,228.8 452.6,230.7 460.3,231.3 452.6,231.9 452.6,232.8 452.6,235.1 452.6,236.9 452.6,238.5 458.2,239.1 452.6,239.7 452.6,240.0 452.6,242.1 452.6,244.0 474.0,244.6 452.6,245.2 452.6,245.9 463.1,246.5 452.6,247.1 452.6,247.5 480.6,248.1 452.6,248.7 452.6,248.8 465.4,249.4 452.6,250.0 452.6,250.7 452.6,252.7 452.6,254.3 472.1,254.9 452.6,255.5 452.6,255.9 479.8,256.5 452.6,257.1 452.6,257.5 452.6,258.9 452.6,260.0 452.6,261.4 452.6,263.0 452.6,265.4 452.6,267.4 452.6,269.1 452.6,271.4 452.6,273.1 452.6,275.3 483.2,275.9 452.6,276.5 452.6,277.3 452.6,279.3 452.6,281.8 452.6,283.8 452.6,285.9 452.6,287.6 452.6,289.1 465.3,289.7 452.6,290.3 452.6,290.9 457.9,291.5 452.6,292.1 452.6,292.9 510.9,293.5 452.6,294.1 452.6,294.7 452.6,297.0 452.6,298.4 489.9,299.0 452.6,299.6 452.6,300.5 452.6,302.7 452.6,304.6 475.1,305.2 452.6,305.8 452.6,306.2 452.6,307.8 452.6,309.0 466.8,309.6 452.6,310.2 452.6,311.2 452.6,312.3 452.6,314.6 452.6,316.1 452.6,317.6 505.7,318.2 452.6,318.8 452.6,319.6 506.7,320.2 452.6,320.8 452.6,320.8 452.6,321.9 462.4,322.5 452.6,323.1 452.6,323.8 463.6,324.4 452.6,325.0 452.6,325.2 452.6,327.5 452.6,328.6 452.6,330.4 452.6,332.2 452.6,334.4 452.6,336.4 452.6,338.3 452.6,339.9 452.6,342.0 510.1,342.6 452.6,343.2 452.6,343.7 452.6,345.7 452.6,347.8 452.6,349.4 452.6,351.5 452.6,352.7 457.9,353.3 452.6,353.9 452.6,354.0 456.9,354.6 452.6,355.2 452.6,355.4 452.6,357.4 452.6,359.9" stroke="#00ff00" stroke-width="2.05"/>
<polyline points="473.3,364.0 452.2,365.2 452.2,395.8 476.9,397.6 520.3,401.2 452.2,403.0 578.1,404.8 452.2,407.2 452.2,442.0 536.6,445.0 603.4,447.0 452.2,448.6 452.2,467.8 484.2,470.2 452.2,475.0 452.2,485.0" stroke="#00ffff" stroke-width="2.05"/>
<polyline points="452.6,362.2 463.3,366.4 456.8,368.2 466.5,370.0 458.4,371.8 472.9,375.4 456.8,377.8 452.6,385.0 458.4,394.0 452.6,397.0 477.7,400.6 511.5,404.2 480.9,405.4 452.6,407.8 452.6,417.4 498.6,420.4 461.7,423.4 527.5,426.8 452.6,431.8 476.1,433.0 452.6,434.2 452.6,451.0 479.3,454.6 458.4,457.0 477.7,461.2 452.6,464.2 452.6,466.0 509.9,472.0 458.4,476.2 452.6,479.8 476.1,484.6" stroke="#00ff00" stroke-width="2.05"/>
<polyline points="452.2,475.0 482.4,476.2 452.2,477.4 452.2,535.0 560.1,536.8 452.2,539.8 452.2,605.0" stroke="#00ffff" stroke-width="2.05"/>
<polyline points="452.6,475.0 489.0,475.6 452.6,478.6 452.6,483.4 476.1,484.8 458.4,486.4 482.6,488.8 458.4,490.6 474.5,493.6 452.6,495.4 463.3,496.6 452.6,497.8 452.6,511.0 458.4,513.4 452.6,515.8 477.7,517.0 485.8,519.4 452.6,523.0 452.6,537.4 479.3,539.8 464.9,542.8 489.0,544.6 458.4,547.0 472.9,550.0 452.6,551.8 452.6,561.4 466.5,563.4 452.6,565.0 463.3,566.8 452.6,568.6 452.6,571.0 485.8,575.8 495.4,580.6 452.6,584.2 456.8,586.6 452.6,587.8 452.6,592.6 463.3,595.0 452.6,597.4 452.6,599.8" stroke="#00ff00" stroke-width="2.05"/>
<polyline points="452.2,595.0 452.2,617.8 802.2,618.0" stroke="#00ffff" stroke-width="2.05"/>
<polyline points="802.2,637.2 636.0,638.0 578.1,640.0 802.2,639.6" stroke="#00ffff" stroke-width="2.05"/>
<polyline points="802.2,641.2 654.1,642.0 654.1,643.0 802.2,643.2" stroke="#00ffff" stroke-width="2.05"/>
<polyline points="452.6,599.8 464.9,596.2 452.6,602.2 452.6,616.6 460.1,617.8 452.6,619.6 461.7,620.8 452.6,623.8 452.6,627.4 463.3,629.2 452.6,630.4 452.6,631.0 466.5,632.8 485.8,635.2 476.1,636.4 482.6,638.8 480.9,641.2 469.7,643.6 460.1,646.0 452.6,647.8 460.9,650.2 452.6,652.0 464.9,657.4 452.6,659.2 469.7,661.6 452.6,663.4 463.3,667.0 456.8,669.4 463.3,670.6 458.4,671.8 532.4,673.6 542.0,674.8 538.8,676.0 577.4,679.0 609.5,680.0 763.8,683.2" stroke="#00ff00" stroke-width="2.05"/>
<polyline points="763.8,694.6 657.7,697.0 609.5,699.4 497.0,702.4 472.9,706.0 480.9,710.2 487.4,712.4 471.3,715.0 461.7,718.6 469.7,720.4 460.1,725.0" stroke="#00ff00" stroke-width="2.05"/>
<polyline points="802.2,700.8 628.7,705.4 538.4,708.8 556.5,710.2 560.1,713.8 518.5,715.0 545.6,716.2 507.7,719.2 529.3,721.0 556.5,722.2 574.5,725.0" stroke="#00ffff" stroke-width="2.05"/>
<polyline points="556.5,715.0 507.7,719.2 527.5,721.0 560.1,722.2 574.5,724.6 516.7,727.0 542.0,730.6 522.1,731.8 538.4,734.2 592.6,737.2 596.2,737.8 585.4,740.2 574.5,743.8 565.5,745.6 585.4,746.8 570.9,748.6 533.0,751.6 561.9,754.6 529.3,756.4 556.5,759.4 628.7,764.8 701.0,768.4 755.3,772.0 802.2,774.6" stroke="#00ffff" stroke-width="2.05"/>
<polyline points="802.2,780.8 773.3,783.4 742.6,785.8 744.4,790.0 780.6,791.8 773.3,794.2 795.0,797.8 728.1,802.0 683.0,805.6 628.7,809.8 556.5,815.2 502.2,819.4 475.1,821.8 458.9,825.4 457.1,830.2 466.1,836.2 458.9,838.6 469.7,842.2 458.9,845.0" stroke="#00ffff" stroke-width="2.05"/>
<polyline points="480.9,715.0 460.9,718.6 460.1,721.0 471.3,724.0 485.8,727.6 497.0,730.0 505.0,731.2 501.8,734.2 509.1,737.2 498.6,740.2 508.3,742.0 500.2,745.6 490.6,748.6 478.5,751.0 487.4,755.2 497.0,757.0 501.8,759.4 522.7,762.4 558.1,766.0 607.9,770.0 641.6,773.8 686.6,778.6 693.1,782.8 680.2,785.8 673.0,788.8 691.4,793.0 699.5,797.8 686.6,800.2 657.7,804.4 609.5,809.8 545.2,815.8 505.0,820.6 480.9,824.2 461.7,829.6 452.6,835.0 452.6,845.0" stroke="#00ff00" stroke-width="2.05"/>
<polyline points="458.9,835.0 467.9,835.0 458.9,837.4 467.9,839.8 470.6,842.2 458.9,845.8 466.1,848.8 457.1,850.6 464.3,853.6 458.9,855.4 465.2,857.2 458.0,859.0 460.7,862.0 452.2,865.0 460.7,868.0 452.2,871.0 459.8,874.0 452.2,877.0 452.2,889.0 458.0,895.0 452.2,904.6 458.9,907.0 466.1,910.6 462.5,913.0 465.2,915.4 460.7,919.0 458.0,926.2 460.7,931.0 461.6,935.8 466.1,941.8 479.6,943.6 484.2,947.8 489.6,950.8 479.6,953.8 486.0,958.0 482.4,960.4 491.4,964.0 493.2,965.0" stroke="#00ffff" stroke-width="2.05"/>
<polyline points="452.6,835.0 452.6,847.0 458.4,850.6 459.3,856.6 456.8,863.8 452.6,883.0 457.6,889.0 452.6,902.2 457.6,907.0 458.4,911.8 452.6,919.0 458.4,927.4 460.9,934.6 464.9,943.0 464.1,950.2 468.1,955.0 472.9,959.8 472.1,965.0" stroke="#00ff00" stroke-width="2.05"/>
<polyline points="480.6,955.0 486.0,958.6 482.4,960.4 489.6,963.4 493.2,967.0 502.2,970.0 511.3,974.2 516.7,979.0 556.5,980.8 628.7,982.0 802.2,982.4" stroke="#00ffff" stroke-width="2.05"/>
<polyline points="802.2,998.2 628.7,999.4 538.4,1000.4 452.2,1002.4 452.2,1051.0 476.9,1064.2 502.2,1073.8 514.9,1078.6 523.9,1085.0" stroke="#00ffff" stroke-width="2.05"/>
<polyline points="468.1,955.0 472.9,958.6 471.3,966.4 478.5,969.4 485.8,974.8 485.0,979.6 497.0,980.8 545.2,982.0 609.5,982.6 763.8,983.2" stroke="#00ff00" stroke-width="2.05"/>
<polyline points="763.8,998.8 609.5,1000.0 529.1,1001.2 497.0,1002.4 480.9,1006.6 476.1,1021.0 474.5,1025.8 464.9,1033.0 463.3,1039.0 469.7,1046.2 479.3,1054.6 485.8,1061.8 497.0,1069.0 509.9,1078.6 514.7,1085.0" stroke="#00ff00" stroke-width="2.05"/>
<polyline points="505.9,1075.0 516.7,1079.8 525.7,1087.0 534.8,1101.4 540.2,1111.0 542.0,1115.8 554.7,1132.6 554.7,1141.0 552.8,1154.2 545.6,1160.2 534.8,1163.8 520.3,1167.4" stroke="#00ffff" stroke-width="2.05"/>
<polyline points="501.8,1075.0 508.3,1078.6 513.1,1084.6 516.3,1095.4 519.5,1109.8 527.5,1129.0 525.9,1147.0 522.7,1157.8 509.9,1167.4 524.3,1168.0 524.3,1177.0 527.5,1183.0 533.2,1187.8" stroke="#00ff00" stroke-width="2.05"/>
<polyline points="685.2,1008.0 666.0,1008.6 644.4,1008.0 639.6,1009.8 534.0,1011.6 486.0,1012.8 456.0,1013.4 462.0,1014.6 504.0,1015.2 546.0,1017.0 548.4,1018.2 498.0,1018.8 474.0,1020.0 456.0,1021.8 498.0,1021.4 480.0,1023.0 534.0,1024.2 546.0,1025.4 606.0,1027.2 661.2,1028.2 630.0,1028.6 534.0,1030.8 516.0,1031.4 456.0,1034.6 454.8,1034.6 454.8,1045.2 456.0,1045.2 474.0,1046.4 534.0,1048.8 606.0,1051.8 630.0,1053.6 663.6,1054.8 654.0,1060.8 606.0,1063.2 582.0,1065.0 570.0,1067.4 588.0,1069.2 594.0,1071.6 570.0,1072.8 600.0,1075.8 624.0,1078.2 612.0,1079.4 600.0,1081.2 612.0,1083.0 596.4,1084.8 612.0,1087.2 606.0,1080.0 620.4,1080.6 595.2,1084.2 613.2,1089.0 595.2,1091.4 618.0,1096.2 596.4,1101.6 613.2,1105.2 603.6,1108.2 613.2,1110.0 600.0,1114.8 594.0,1119.6 585.6,1124.4 573.6,1130.4 578.4,1137.6 560.4,1144.8 552.0,1148.4 510.0,1153.2 454.8,1157.4" stroke="#0000ff" stroke-width="2.1"/>
<polyline points="454.8,1168.2 616.8,1168.8 594.0,1172.4 606.0,1174.8 627.6,1176.6 621.6,1178.4 638.4,1182.0 618.0,1184.4 454.8,1186.8" stroke="#0000ff" stroke-width="2.1"/>
<polyline points="454.8,1045.8 470.4,1047.6 456.0,1048.8 472.8,1050.6 454.8,1052.4 454.8,1053.6 522.0,1054.8 681.6,1056.6 584.4,1057.8 685.2,1059.0 685.2,1060.8 654.0,1060.2 685.2,1062.0" stroke="#008000" stroke-width="2.2"/>
<polyline points="685.2,1068.6 646.8,1069.2 685.2,1070.2 685.2,1072.8 529.2,1075.4 546.0,1076.6 476.4,1080.0 541.2,1081.8 554.4,1083.6 496.8,1084.8 548.4,1086.6 579.6,1089.0 476.4,1080.6 554.4,1083.6 496.8,1084.8 579.6,1089.6 548.4,1093.2 618.0,1096.2 548.4,1097.4 576.0,1099.2 519.6,1102.2 570.0,1104.0 588.0,1107.0 536.4,1110.0 570.0,1114.8 574.8,1117.8 524.4,1119.6 548.4,1123.8 520.8,1125.6 550.8,1128.0 526.8,1132.8 546.0,1134.6 522.0,1138.2 510.0,1141.8 522.0,1145.4 486.0,1148.4 454.8,1152.6" stroke="#008000" stroke-width="2.2"/>
<polyline points="454.8,1168.2 594.0,1168.2 510.0,1170.0 588.0,1171.2 541.2,1173.6 685.2,1178.4 597.6,1182.0 626.4,1182.6 454.8,1186.2" stroke="#008000" stroke-width="2.2"/>
</g>
<rect x="455.50" y="123.5" width="230.0" height="1075.00" fill="none" stroke="#000" stroke-width="1.2"/>
<rect x="587.4" y="230.5" width="94.3" height="63.1" fill="#eff1f5" fill-opacity="0.85"/>
<text x="594.21" y="246.80" font-size="14.45" textLength="16.73" lengthAdjust="spacingAndGlyphs" fill="#000" >LR</text>
<text x="611.34" y="249.80" font-size="9.87" textLength="15.95" lengthAdjust="spacingAndGlyphs" fill="#000" font-family="'Liberation Sans', sans-serif" >355</text>
<text x="627.56" y="246.80" font-size="14.45" textLength="42.92" lengthAdjust="spacingAndGlyphs" fill="#000" >: 45.00</text>
<text x="594.21" y="264.70" font-size="14.45" textLength="16.73" lengthAdjust="spacingAndGlyphs" fill="#000" >LR</text>
<text x="611.31" y="267.70" font-size="9.87" textLength="16.08" lengthAdjust="spacingAndGlyphs" fill="#000" font-family="'Liberation Sans', sans-serif" >532</text>
<text x="627.56" y="264.70" font-size="14.45" textLength="42.92" lengthAdjust="spacingAndGlyphs" fill="#000" >: 40.00</text>
<text x="594.21" y="283.40" font-size="14.45" textLength="16.73" lengthAdjust="spacingAndGlyphs" fill="#000" >LR</text>
<text x="610.99" y="286.40" font-size="9.87" textLength="21.09" lengthAdjust="spacingAndGlyphs" fill="#000" font-family="'Liberation Sans', sans-serif" >1064</text>
<text x="632.46" y="283.40" font-size="14.45" textLength="42.92" lengthAdjust="spacingAndGlyphs" fill="#000" >: 50.00</text>
<rect x="436.40" y="132.00" width="241.00" height="226.84" rx="3" fill="#fff" fill-opacity="0.8" stroke="#cccccc" stroke-opacity="0.8" stroke-width="1"/>
<line x1="441.90" y1="145.00" x2="474.80" y2="145.00" stroke="#0000ff" stroke-width="2"/>
<text x="486.53" y="150.40" font-size="17.14" textLength="145.38" lengthAdjust="spacingAndGlyphs" fill="#000" >aerExt_raman_355</text>
<line x1="441.90" y1="169.73" x2="474.80" y2="169.73" stroke="#008000" stroke-width="2"/>
<text x="486.53" y="175.13" font-size="17.14" textLength="145.32" lengthAdjust="spacingAndGlyphs" fill="#000" >aerExt_raman_532</text>
<line x1="441.90" y1="194.46" x2="474.80" y2="194.46" stroke="#ff0000" stroke-width="2"/>
<text x="486.53" y="199.86" font-size="17.14" textLength="155.00" lengthAdjust="spacingAndGlyphs" fill="#000" >aerExt_raman_1064</text>
<line x1="442.90" y1="219.19" x2="474.80" y2="219.19" stroke="#800080" stroke-width="2" stroke-dasharray="6 3"/>
<text x="486.56" y="224.59" font-size="17.14" textLength="118.44" lengthAdjust="spacingAndGlyphs" fill="#000" >aerExt_RR_355</text>
<line x1="442.90" y1="243.92" x2="474.80" y2="243.92" stroke="#808000" stroke-width="2" stroke-dasharray="6 3"/>
<text x="486.56" y="249.32" font-size="17.14" textLength="118.37" lengthAdjust="spacingAndGlyphs" fill="#000" >aerExt_RR_532</text>
<line x1="442.90" y1="268.65" x2="474.80" y2="268.65" stroke="#ffa07a" stroke-width="2" stroke-dasharray="6 3"/>
<text x="486.55" y="274.05" font-size="17.14" textLength="128.12" lengthAdjust="spacingAndGlyphs" fill="#000" >aerExt_RR_1064</text>
<line x1="441.90" y1="293.38" x2="474.80" y2="293.38" stroke="#00ffff" stroke-width="2"/>
<text x="486.55" y="298.78" font-size="17.14" textLength="173.49" lengthAdjust="spacingAndGlyphs" fill="#000" >aerBsc_klett_355 x LR</text>
<line x1="441.90" y1="318.11" x2="474.80" y2="318.11" stroke="#00ff00" stroke-width="2"/>
<text x="486.55" y="323.51" font-size="17.14" textLength="173.49" lengthAdjust="spacingAndGlyphs" fill="#000" >aerBsc_klett_532 x LR</text>
<line x1="441.90" y1="342.84" x2="474.80" y2="342.84" stroke="#fa8072" stroke-width="2"/>
<text x="486.54" y="348.24" font-size="17.14" textLength="183.24" lengthAdjust="spacingAndGlyphs" fill="#000" >aerBsc_klett_1064 x LR</text>
<line x1="767.50" y1="123.5" x2="767.50" y2="1198.5" stroke="#b0b0b0" stroke-width="1"/>
<line x1="863.50" y1="123.5" x2="863.50" y2="1198.5" stroke="#b0b0b0" stroke-width="1"/>
<line x1="959.50" y1="123.5" x2="959.50" y2="1198.5" stroke="#b0b0b0" stroke-width="1"/>
<line x1="767.5" y1="1198.50" x2="997.50" y2="1198.50" stroke="#b0b0b0" stroke-width="1"/>
<line x1="767.5" y1="1079.50" x2="997.50" y2="1079.50" stroke="#b0b0b0" stroke-width="1"/>
<line x1="767.5" y1="959.50" x2="997.50" y2="959.50" stroke="#b0b0b0" stroke-width="1"/>
<line x1="767.5" y1="840.50" x2="997.50" y2="840.50" stroke="#b0b0b0" stroke-width="1"/>
<line x1="767.5" y1="720.50" x2="997.50" y2="720.50" stroke="#b0b0b0" stroke-width="1"/>
<line x1="767.5" y1="601.50" x2="997.50" y2="601.50" stroke="#b0b0b0" stroke-width="1"/>
<line x1="767.5" y1="481.50" x2="997.50" y2="481.50" stroke="#b0b0b0" stroke-width="1"/>
<line x1="767.5" y1="362.50" x2="997.50" y2="362.50" stroke="#b0b0b0" stroke-width="1"/>
<line x1="767.5" y1="242.50" x2="997.50" y2="242.50" stroke="#b0b0b0" stroke-width="1"/>
<line x1="767.5" y1="123.50" x2="997.50" y2="123.50" stroke="#b0b0b0" stroke-width="1"/>
<path d="M761.00 1198.00H767.50M997.50 1198.00H1004.00M761.00 1079.00H767.50M997.50 1079.00H1004.00M761.00 960.00H767.50M997.50 960.00H1004.00M761.00 840.00H767.50M997.50 840.00H1004.00M761.00 721.00H767.50M997.50 721.00H1004.00M761.00 601.00H767.50M997.50 601.00H1004.00M761.00 482.00H767.50M997.50 482.00H1004.00M761.00 362.00H767.50M997.50 362.00H1004.00M761.00 243.00H767.50M997.50 243.00H1004.00M761.00 123.00H767.50M997.50 123.00H1004.00M767.00 1198.50V1205.00M767.00 123.50V117.00M863.00 1198.50V1205.00M863.00 123.50V117.00M959.00 1198.50V1205.00M959.00 123.50V117.00" stroke="#000" stroke-width="2" fill="none"/>
<text x="746.61" y="1204.80" font-size="17.92" textLength="9.51" lengthAdjust="spacingAndGlyphs" fill="#000" >0</text>
<text x="747.03" y="1085.36" font-size="17.92" textLength="9.40" lengthAdjust="spacingAndGlyphs" fill="#000" >2</text>
<text x="746.14" y="965.91" font-size="17.92" textLength="9.55" lengthAdjust="spacingAndGlyphs" fill="#000" >4</text>
<text x="746.52" y="846.47" font-size="17.92" textLength="9.45" lengthAdjust="spacingAndGlyphs" fill="#000" >6</text>
<text x="746.65" y="727.02" font-size="17.92" textLength="9.46" lengthAdjust="spacingAndGlyphs" fill="#000" >8</text>
<text x="736.30" y="607.58" font-size="17.92" textLength="19.84" lengthAdjust="spacingAndGlyphs" fill="#000" >10</text>
<text x="736.84" y="488.13" font-size="17.92" textLength="19.64" lengthAdjust="spacingAndGlyphs" fill="#000" >12</text>
<text x="736.08" y="368.69" font-size="17.92" textLength="19.61" lengthAdjust="spacingAndGlyphs" fill="#000" >14</text>
<text x="736.27" y="249.24" font-size="17.92" textLength="19.72" lengthAdjust="spacingAndGlyphs" fill="#000" >16</text>
<text x="736.30" y="129.80" font-size="17.92" textLength="19.84" lengthAdjust="spacingAndGlyphs" fill="#000" >18</text>
<text x="762.75" y="1220.00" font-size="17.92" textLength="9.51" lengthAdjust="spacingAndGlyphs" fill="#000" >0</text>
<text x="853.21" y="1220.00" font-size="17.92" textLength="19.85" lengthAdjust="spacingAndGlyphs" fill="#000" >50</text>
<text x="943.66" y="1220.00" font-size="17.92" textLength="30.02" lengthAdjust="spacingAndGlyphs" fill="#000" >100</text>
<g clip-path="url(#c2)" fill="none" stroke-linejoin="round" stroke-linecap="butt">
</g>
<rect x="767.50" y="123.5" width="230.0" height="1075.00" fill="none" stroke="#000" stroke-width="1.2"/>
<rect x="780.60" y="131.60" width="209.10" height="152.65" rx="3" fill="#fff" fill-opacity="0.8" stroke="#cccccc" stroke-opacity="0.8" stroke-width="1"/>
<line x1="786.10" y1="144.60" x2="819.00" y2="144.60" stroke="#0000ff" stroke-width="2"/>
<text x="830.74" y="150.00" font-size="17.14" textLength="141.06" lengthAdjust="spacingAndGlyphs" fill="#000" >aerLR_raman_355</text>
<line x1="786.10" y1="169.33" x2="819.00" y2="169.33" stroke="#008000" stroke-width="2"/>
<text x="830.74" y="174.73" font-size="17.14" textLength="140.99" lengthAdjust="spacingAndGlyphs" fill="#000" >aerLR_raman_532</text>
<line x1="786.10" y1="194.06" x2="819.00" y2="194.06" stroke="#ff0000" stroke-width="2"/>
<text x="830.74" y="199.46" font-size="17.14" textLength="150.72" lengthAdjust="spacingAndGlyphs" fill="#000" >aerLR_raman_1064</text>
<line x1="787.10" y1="218.79" x2="819.00" y2="218.79" stroke="#800080" stroke-width="2" stroke-dasharray="6 3"/>
<text x="830.77" y="224.19" font-size="17.14" textLength="114.15" lengthAdjust="spacingAndGlyphs" fill="#000" >aerLR_RR_355</text>
<line x1="787.10" y1="243.52" x2="819.00" y2="243.52" stroke="#808000" stroke-width="2" stroke-dasharray="6 3"/>
<text x="830.77" y="248.92" font-size="17.14" textLength="114.08" lengthAdjust="spacingAndGlyphs" fill="#000" >aerLR_RR_532</text>
<line x1="787.10" y1="268.25" x2="819.00" y2="268.25" stroke="#ffa07a" stroke-width="2" stroke-dasharray="6 3"/>
<text x="830.77" y="273.65" font-size="17.14" textLength="123.80" lengthAdjust="spacingAndGlyphs" fill="#000" >aerLR_RR_1064</text>
<line x1="1078.50" y1="123.5" x2="1078.50" y2="1198.5" stroke="#b0b0b0" stroke-width="1"/>
<line x1="1136.50" y1="123.5" x2="1136.50" y2="1198.5" stroke="#b0b0b0" stroke-width="1"/>
<line x1="1193.50" y1="123.5" x2="1193.50" y2="1198.5" stroke="#b0b0b0" stroke-width="1"/>
<line x1="1251.50" y1="123.5" x2="1251.50" y2="1198.5" stroke="#b0b0b0" stroke-width="1"/>
<line x1="1308.50" y1="123.5" x2="1308.50" y2="1198.5" stroke="#b0b0b0" stroke-width="1"/>
<line x1="1078.5" y1="1198.50" x2="1308.50" y2="1198.50" stroke="#b0b0b0" stroke-width="1"/>
<line x1="1078.5" y1="1079.50" x2="1308.50" y2="1079.50" stroke="#b0b0b0" stroke-width="1"/>
<line x1="1078.5" y1="959.50" x2="1308.50" y2="959.50" stroke="#b0b0b0" stroke-width="1"/>
<line x1="1078.5" y1="840.50" x2="1308.50" y2="840.50" stroke="#b0b0b0" stroke-width="1"/>
<line x1="1078.5" y1="720.50" x2="1308.50" y2="720.50" stroke="#b0b0b0" stroke-width="1"/>
<line x1="1078.5" y1="601.50" x2="1308.50" y2="601.50" stroke="#b0b0b0" stroke-width="1"/>
<line x1="1078.5" y1="481.50" x2="1308.50" y2="481.50" stroke="#b0b0b0" stroke-width="1"/>
<line x1="1078.5" y1="362.50" x2="1308.50" y2="362.50" stroke="#b0b0b0" stroke-width="1"/>
<line x1="1078.5" y1="242.50" x2="1308.50" y2="242.50" stroke="#b0b0b0" stroke-width="1"/>
<line x1="1078.5" y1="123.50" x2="1308.50" y2="123.50" stroke="#b0b0b0" stroke-width="1"/>
<path d="M1072.00 1198.00H1078.50M1308.50 1198.00H1315.00M1072.00 1079.00H1078.50M1308.50 1079.00H1315.00M1072.00 960.00H1078.50M1308.50 960.00H1315.00M1072.00 840.00H1078.50M1308.50 840.00H1315.00M1072.00 721.00H1078.50M1308.50 721.00H1315.00M1072.00 601.00H1078.50M1308.50 601.00H1315.00M1072.00 482.00H1078.50M1308.50 482.00H1315.00M1072.00 362.00H1078.50M1308.50 362.00H1315.00M1072.00 243.00H1078.50M1308.50 243.00H1315.00M1072.00 123.00H1078.50M1308.50 123.00H1315.00M1078.00 1198.50V1205.00M1078.00 123.50V117.00M1136.00 1198.50V1205.00M1136.00 123.50V117.00M1193.00 1198.50V1205.00M1193.00 123.50V117.00M1251.00 1198.50V1205.00M1251.00 123.50V117.00M1308.00 1198.50V1205.00M1308.00 123.50V117.00" stroke="#000" stroke-width="2" fill="none"/>
<text x="1057.61" y="1204.80" font-size="17.92" textLength="9.51" lengthAdjust="spacingAndGlyphs" fill="#000" >0</text>
<text x="1058.03" y="1085.36" font-size="17.92" textLength="9.40" lengthAdjust="spacingAndGlyphs" fill="#000" >2</text>
<text x="1057.14" y="965.91" font-size="17.92" textLength="9.55" lengthAdjust="spacingAndGlyphs" fill="#000" >4</text>
<text x="1057.52" y="846.47" font-size="17.92" textLength="9.45" lengthAdjust="spacingAndGlyphs" fill="#000" >6</text>
<text x="1057.65" y="727.02" font-size="17.92" textLength="9.46" lengthAdjust="spacingAndGlyphs" fill="#000" >8</text>
<text x="1047.30" y="607.58" font-size="17.92" textLength="19.84" lengthAdjust="spacingAndGlyphs" fill="#000" >10</text>
<text x="1047.84" y="488.13" font-size="17.92" textLength="19.64" lengthAdjust="spacingAndGlyphs" fill="#000" >12</text>
<text x="1047.08" y="368.69" font-size="17.92" textLength="19.61" lengthAdjust="spacingAndGlyphs" fill="#000" >14</text>
<text x="1047.27" y="249.24" font-size="17.92" textLength="19.72" lengthAdjust="spacingAndGlyphs" fill="#000" >16</text>
<text x="1047.30" y="129.80" font-size="17.92" textLength="19.84" lengthAdjust="spacingAndGlyphs" fill="#000" >18</text>
<text x="1067.65" y="1220.00" font-size="17.92" textLength="21.88" lengthAdjust="spacingAndGlyphs" fill="#000" >−1</text>
<text x="1131.25" y="1220.00" font-size="17.92" textLength="9.51" lengthAdjust="spacingAndGlyphs" fill="#000" >0</text>
<text x="1189.04" y="1220.00" font-size="17.92" textLength="8.45" lengthAdjust="spacingAndGlyphs" fill="#000" >1</text>
<text x="1246.39" y="1220.00" font-size="17.92" textLength="9.40" lengthAdjust="spacingAndGlyphs" fill="#000" >2</text>
<text x="1303.70" y="1220.00" font-size="17.92" textLength="9.45" lengthAdjust="spacingAndGlyphs" fill="#000" >3</text>
<g clip-path="url(#c3)" fill="none" stroke-linejoin="round" stroke-linecap="butt">
<line x1="1136.0" y1="995.7" x2="1136.0" y2="1181" stroke="#ff00ff" stroke-width="2"/>
<line x1="1136.0" y1="120" x2="1136.0" y2="995.7" stroke="#ff00ff" stroke-width="2"/>
<polyline points="1136.0,120.0 1135.4,980.0 1135.4,995.2 1073.3,999.5" stroke="#000000" stroke-width="2.05"/>
<polyline points="1073.3,1061.2 1311.6,1053.5" stroke="#000000" stroke-width="2.05"/>
<polyline points="1073.3,1071.5 1136.2,1074.6 1194.1,1077.9 1252.0,1080.1 1257.0,1081.3 1258.3,1082.9 1252.0,1083.9 1212.3,1086.7 1205.7,1088.7 1187.5,1090.5 1176.7,1094.2 1189.1,1097.5 1200.7,1100.0 1199.1,1102.4 1203.2,1102.4 1204.0,1106.6 1185.8,1111.5 1192.4,1113.7 1193.3,1118.2 1207.3,1121.5 1210.6,1124.3 1195.7,1129.7 1192.4,1132.2 1202.4,1136.4 1207.3,1139.7 1218.9,1143.0 1235.5,1146.3 1252.0,1148.4 1311.6,1149.8" stroke="#000000" stroke-width="2.05"/>
<polyline points="1285.1,1171.9 1156.0,1172.8 1141.1,1176.1 1136.2,1178.5 1127.1,1180.5 1127.1,1182.2 1122.9,1183.2 1136.2,1183.2 1136.2,1200.1" stroke="#000000" stroke-width="2.05"/>
</g>
<rect x="1078.50" y="123.5" width="230.0" height="1075.00" fill="none" stroke="#000" stroke-width="1.2"/>
<rect x="1024.40" y="131.70" width="275.90" height="78.46" rx="3" fill="#fff" fill-opacity="0.8" stroke="#cccccc" stroke-opacity="0.8" stroke-width="1"/>
<line x1="1029.90" y1="144.70" x2="1062.80" y2="144.70" stroke="#ffa500" stroke-width="2"/>
<text x="1075.02" y="150.10" font-size="17.14" textLength="199.96" lengthAdjust="spacingAndGlyphs" fill="#000" >AE_beta_355_532_Raman</text>
<line x1="1029.90" y1="169.43" x2="1062.80" y2="169.43" stroke="#ff00ff" stroke-width="2"/>
<text x="1075.01" y="174.83" font-size="17.14" textLength="209.67" lengthAdjust="spacingAndGlyphs" fill="#000" >AE_beta_532_1064_Raman</text>
<line x1="1029.90" y1="194.16" x2="1062.80" y2="194.16" stroke="#000000" stroke-width="2"/>
<text x="1075.02" y="199.56" font-size="17.14" textLength="218.01" lengthAdjust="spacingAndGlyphs" fill="#000" >AE_parExt_355_532_Raman</text>
<line x1="1390.50" y1="123.5" x2="1390.50" y2="1198.5" stroke="#b0b0b0" stroke-width="1"/>
<line x1="1467.50" y1="123.5" x2="1467.50" y2="1198.5" stroke="#b0b0b0" stroke-width="1"/>
<line x1="1543.50" y1="123.5" x2="1543.50" y2="1198.5" stroke="#b0b0b0" stroke-width="1"/>
<line x1="1620.50" y1="123.5" x2="1620.50" y2="1198.5" stroke="#b0b0b0" stroke-width="1"/>
<line x1="1390.5" y1="1198.50" x2="1620.50" y2="1198.50" stroke="#b0b0b0" stroke-width="1"/>
<line x1="1390.5" y1="1079.50" x2="1620.50" y2="1079.50" stroke="#b0b0b0" stroke-width="1"/>
<line x1="1390.5" y1="959.50" x2="1620.50" y2="959.50" stroke="#b0b0b0" stroke-width="1"/>
<line x1="1390.5" y1="840.50" x2="1620.50" y2="840.50" stroke="#b0b0b0" stroke-width="1"/>
<line x1="1390.5" y1="720.50" x2="1620.50" y2="720.50" stroke="#b0b0b0" stroke-width="1"/>
<line x1="1390.5" y1="601.50" x2="1620.50" y2="601.50" stroke="#b0b0b0" stroke-width="1"/>
<line x1="1390.5" y1="481.50" x2="1620.50" y2="481.50" stroke="#b0b0b0" stroke-width="1"/>
<line x1="1390.5" y1="362.50" x2="1620.50" y2="362.50" stroke="#b0b0b0" stroke-width="1"/>
<line x1="1390.5" y1="242.50" x2="1620.50" y2="242.50" stroke="#b0b0b0" stroke-width="1"/>
<line x1="1390.5" y1="123.50" x2="1620.50" y2="123.50" stroke="#b0b0b0" stroke-width="1"/>
<path d="M1384.00 1198.00H1390.50M1620.50 1198.00H1627.00M1384.00 1079.00H1390.50M1620.50 1079.00H1627.00M1384.00 960.00H1390.50M1620.50 960.00H1627.00M1384.00 840.00H1390.50M1620.50 840.00H1627.00M1384.00 721.00H1390.50M1620.50 721.00H1627.00M1384.00 601.00H1390.50M1620.50 601.00H1627.00M1384.00 482.00H1390.50M1620.50 482.00H1627.00M1384.00 362.00H1390.50M1620.50 362.00H1627.00M1384.00 243.00H1390.50M1620.50 243.00H1627.00M1384.00 123.00H1390.50M1620.50 123.00H1627.00M1390.00 1198.50V1205.00M1390.00 123.50V117.00M1467.00 1198.50V1205.00M1467.00 123.50V117.00M1544.00 1198.50V1205.00M1544.00 123.50V117.00M1620.00 1198.50V1205.00M1620.00 123.50V117.00" stroke="#000" stroke-width="2" fill="none"/>
<text x="1369.61" y="1204.80" font-size="17.92" textLength="9.51" lengthAdjust="spacingAndGlyphs" fill="#000" >0</text>
<text x="1370.03" y="1085.36" font-size="17.92" textLength="9.40" lengthAdjust="spacingAndGlyphs" fill="#000" >2</text>
<text x="1369.14" y="965.91" font-size="17.92" textLength="9.55" lengthAdjust="spacingAndGlyphs" fill="#000" >4</text>
<text x="1369.52" y="846.47" font-size="17.92" textLength="9.45" lengthAdjust="spacingAndGlyphs" fill="#000" >6</text>
<text x="1369.65" y="727.02" font-size="17.92" textLength="9.46" lengthAdjust="spacingAndGlyphs" fill="#000" >8</text>
<text x="1359.30" y="607.58" font-size="17.92" textLength="19.84" lengthAdjust="spacingAndGlyphs" fill="#000" >10</text>
<text x="1359.84" y="488.13" font-size="17.92" textLength="19.64" lengthAdjust="spacingAndGlyphs" fill="#000" >12</text>
<text x="1359.08" y="368.69" font-size="17.92" textLength="19.61" lengthAdjust="spacingAndGlyphs" fill="#000" >14</text>
<text x="1359.27" y="249.24" font-size="17.92" textLength="19.72" lengthAdjust="spacingAndGlyphs" fill="#000" >16</text>
<text x="1359.30" y="129.80" font-size="17.92" textLength="19.84" lengthAdjust="spacingAndGlyphs" fill="#000" >18</text>
<text x="1378.07" y="1220.00" font-size="17.92" textLength="24.85" lengthAdjust="spacingAndGlyphs" fill="#000" >0.0</text>
<text x="1455.01" y="1220.00" font-size="17.92" textLength="24.67" lengthAdjust="spacingAndGlyphs" fill="#000" >0.2</text>
<text x="1531.29" y="1220.00" font-size="17.92" textLength="24.63" lengthAdjust="spacingAndGlyphs" fill="#000" >0.4</text>
<text x="1608.06" y="1220.00" font-size="17.92" textLength="24.74" lengthAdjust="spacingAndGlyphs" fill="#000" >0.6</text>
<g clip-path="url(#c4)" fill="none" stroke-linejoin="round" stroke-linecap="butt">
<polyline points="1394.9,286.0 1396.4,287.0 1391.4,288.2 1393.8,290.6 1393.7,292.0 1401.3,294.1 1399.4,295.1 1393.4,296.6 1417.1,298.5 1392.8,300.9 1393.8,302.8 1405.3,304.3 1393.3,306.3 1390.2,308.3 1393.7,310.1 1391.6,311.8 1394.9,313.8 1391.2,315.4 1391.7,317.3 1390.4,319.3 1391.7,321.8 1405.2,323.4 1390.4,325.2 1392.2,327.5 1391.4,329.0 1392.1,330.3 1390.8,332.5 1391.6,334.5 1397.4,336.8 1392.1,339.1 1416.0,340.9 1400.3,342.6 1403.1,344.2 1390.6,346.1 1391.4,347.8 1391.7,349.1 1393.9,350.5 1390.9,352.0 1392.9,353.4 1391.9,354.8 1392.9,356.1 1390.6,358.5 1390.5,360.1 1391.5,361.4 1397.4,363.5 1391.1,364.9 1390.6,366.0 1390.2,368.3 1390.2,370.1 1393.1,371.8 1393.9,372.8 1392.1,375.1 1393.5,376.3 1391.5,378.5 1393.2,380.5 1391.4,382.8 1390.8,385.1 1393.4,386.5 1393.3,388.3 1391.6,390.7 1396.2,393.0 1390.6,395.0 1390.9,396.1 1395.4,397.9 1399.6,399.7 1390.3,401.5 1393.2,403.9 1390.3,406.2 1393.8,407.4 1392.5,409.8 1393.9,411.9 1404.4,414.3 1391.3,416.5 1390.2,417.9 1390.1,420.3 1391.8,421.8 1391.9,423.3 1393.3,424.9 1393.5,426.4 1390.2,428.8 1390.9,431.2 1391.2,432.4 1394.0,433.7 1391.9,435.9 1390.3,438.1 1393.7,439.6 1392.5,441.5 1393.2,442.5 1391.1,444.5 1390.6,445.6 1393.5,447.2 1392.5,448.9 1399.4,450.0 1392.8,451.4 1391.6,453.8 1391.6,455.7 1393.3,458.0 1402.5,459.4 1392.7,460.8 1391.0,462.6 1393.2,464.5 1410.3,466.0 1390.5,467.4 1392.4,469.5 1392.0,470.9 1393.7,473.0 1392.6,474.2 1391.8,475.5 1393.8,477.8 1390.4,479.5 1390.7,481.1 1391.0,482.2 1392.8,483.9 1390.7,485.7 1390.5,488.0 1398.7,489.1 1391.3,491.5 1393.7,493.2 1390.2,495.4 1390.6,496.9 1398.2,499.2 1392.2,501.6 1422.2,502.8 1390.3,504.5 1396.2,506.4 1393.2,507.9 1392.6,509.1 1395.0,510.2 1390.7,512.4 1391.0,513.5 1400.1,515.6 1392.9,517.1 1391.9,518.6 1391.6,519.9 1394.5,521.1 1390.2,523.4 1398.4,525.8 1390.1,528.1 1393.4,529.3 1391.4,531.5 1391.4,532.7 1392.6,534.3 1397.7,535.7 1395.5,537.3 1391.2,538.7 1395.7,540.1 1390.3,542.1 1393.6,543.6 1390.6,544.9 1422.6,546.3 1391.9,547.6 1391.7,549.5 1392.9,551.6 1397.8,553.7 1390.5,555.4 1391.3,557.1 1390.2,558.2 1392.2,560.0 1390.5,561.8 1392.8,563.7 1390.1,565.4 1396.0,566.9 1393.3,568.0 1392.0,569.2 1391.0,571.5 1391.2,573.7 1403.8,575.6 1391.5,577.0 1393.1,578.2 1390.3,580.7 1417.8,582.8 1402.2,584.4 1394.0,586.5 1391.7,588.7 1393.3,589.8 1393.1,591.6 1391.9,592.7 1393.7,594.4 1392.7,596.6 1410.9,598.5 1391.7,600.3 1393.6,602.5 1414.7,604.6 1390.1,606.4 1401.6,608.4 1392.7,610.6 1393.5,612.0 1390.2,613.6 1390.9,614.9 1390.4,616.7 1405.5,617.8 1390.5,619.9 1390.3,622.1 1395.0,623.8 1393.9,626.1 1405.8,628.3 1392.1,630.5 1393.7,632.3 1390.7,634.2 1398.9,635.8 1391.4,637.4 1391.2,639.0 1392.7,640.3 1393.7,642.2 1391.6,644.2 1398.5,646.0 1392.6,647.2 1390.9,649.3 1393.0,650.4 1392.4,651.6 1390.4,653.4 1393.6,654.4 1418.9,656.1 1392.2,657.9" stroke="#00ff01" stroke-width="1.8"/>
<polyline points="1403.4,826.0 1396.8,827.3 1393.0,829.3 1401.6,830.5 1393.5,832.7 1392.1,835.1 1397.1,837.6 1393.0,839.0 1392.5,841.2 1392.2,842.7 1404.8,844.2 1391.1,845.7 1393.2,846.8 1420.1,849.1 1404.8,850.5 1390.6,851.6 1392.7,852.8 1392.0,855.3 1398.5,857.8 1391.0,859.1 1391.6,861.1 1391.9,863.3 1390.7,865.5 1393.5,867.4 1390.2,868.8 1391.8,870.5 1394.0,872.6 1398.6,874.7 1391.6,876.5 1391.2,877.9 1402.8,879.4 1391.0,881.3 1391.7,883.1 1394.3,885.1 1395.1,886.7 1390.1,888.7 1393.1,890.4 1393.6,892.7 1390.7,894.0 1390.8,895.1 1392.8,897.5" stroke="#00ff01" stroke-width="1.8"/>
<line x1="1390.0" y1="133.6" x2="1564.9" y2="133.6" stroke="#00ffff" stroke-width="3.4"/>
<line x1="1390.0" y1="137.4" x2="1622.0" y2="137.4" stroke="#00ffff" stroke-width="2.7"/>
<line x1="1390.0" y1="141.8" x2="1414.9" y2="141.8" stroke="#00ffff" stroke-width="2.7"/>
<line x1="1390.0" y1="153.0" x2="1622.0" y2="153.0" stroke="#00ffff" stroke-width="2.3"/>
<line x1="1390.0" y1="157.4" x2="1622.0" y2="157.4" stroke="#00ffff" stroke-width="3.4"/>
<line x1="1390.0" y1="160.8" x2="1622.0" y2="160.8" stroke="#00ffff" stroke-width="3.4"/>
<line x1="1390.0" y1="164.5" x2="1455.7" y2="164.5" stroke="#00ffff" stroke-width="2.5"/>
<line x1="1390.0" y1="186.9" x2="1597.2" y2="186.9" stroke="#00ffff" stroke-width="2.5"/>
<line x1="1390.0" y1="193.7" x2="1622.0" y2="193.7" stroke="#00ffff" stroke-width="3.4"/>
<line x1="1390.0" y1="198.8" x2="1458.7" y2="198.8" stroke="#00ffff" stroke-width="2.5"/>
<line x1="1390.0" y1="219.8" x2="1528.7" y2="219.8" stroke="#00ffff" stroke-width="3.2"/>
<line x1="1390.0" y1="235.3" x2="1622.0" y2="235.3" stroke="#00ffff" stroke-width="2.5"/>
<line x1="1390.0" y1="241.5" x2="1536.1" y2="241.5" stroke="#00ffff" stroke-width="3.1"/>
<line x1="1390.0" y1="244.4" x2="1622.0" y2="244.4" stroke="#00ffff" stroke-width="2.7"/>
<line x1="1390.0" y1="248.3" x2="1622.0" y2="248.3" stroke="#00ffff" stroke-width="3.4"/>
<line x1="1390.0" y1="252.0" x2="1622.0" y2="252.0" stroke="#00ffff" stroke-width="2.8"/>
<line x1="1390.0" y1="254.6" x2="1622.0" y2="254.6" stroke="#00ffff" stroke-width="3.2"/>
<line x1="1390.0" y1="258.2" x2="1622.0" y2="258.2" stroke="#00ffff" stroke-width="3.0"/>
<line x1="1390.0" y1="262.0" x2="1622.0" y2="262.0" stroke="#00ffff" stroke-width="3.3"/>
<line x1="1390.0" y1="266.2" x2="1600.4" y2="266.2" stroke="#00ffff" stroke-width="2.8"/>
<line x1="1390.0" y1="273.3" x2="1427.8" y2="273.3" stroke="#00ffff" stroke-width="3.2"/>
<line x1="1390.0" y1="276.7" x2="1622.0" y2="276.7" stroke="#00ffff" stroke-width="2.9"/>
<line x1="1390.0" y1="280.7" x2="1396.1" y2="280.7" stroke="#00ffff" stroke-width="2.2"/>
<line x1="1390.0" y1="283.8" x2="1622.0" y2="283.8" stroke="#00ffff" stroke-width="3.0"/>
<line x1="1487.5" y1="124.8" x2="1622.0" y2="124.8" stroke="#00ffff" stroke-width="2"/>
<polyline points="1392.8,286.0 1390.9,288.0 1398.2,290.1 1390.0,291.9 1390.3,293.5 1390.9,295.6 1415.9,296.7 1390.1,299.0 1390.5,300.5 1390.6,302.9 1393.7,305.2 1391.4,306.8 1390.1,308.6 1393.1,310.9 1421.3,312.2 1399.3,314.3 1391.9,316.4 1393.7,318.7 1391.5,321.0 1394.0,322.7 1390.4,324.2 1407.4,326.3 1393.0,328.1 1392.2,329.4 1390.7,331.3 1395.5,332.8 1390.4,334.7 1402.4,335.8 1392.7,337.4 1404.2,339.8 1410.7,342.2 1391.5,344.6 1392.6,345.9 1402.4,347.0 1390.8,348.8 1391.7,350.1 1391.4,351.4 1416.1,353.8 1393.8,355.5 1390.5,357.3 1402.7,358.6 1391.7,360.9 1394.9,362.8 1393.1,364.6 1393.8,365.6 1392.6,366.6 1391.0,368.9 1421.7,370.5 1390.4,371.7 1390.6,372.7 1390.5,375.0 1392.0,376.9 1390.7,378.2 1398.8,379.8 1404.0,380.8 1390.1,383.0 1393.1,384.7 1394.0,385.9 1390.2,388.0 1393.6,389.6 1392.2,391.0 1392.4,393.4 1405.5,395.2 1392.1,396.7 1393.3,398.5 1391.3,401.0 1390.3,403.5 1402.2,404.6 1390.1,406.2 1392.1,408.2 1390.9,409.8 1391.0,410.9 1401.6,412.9 1391.5,414.6 1393.9,416.3 1392.0,417.5 1402.5,419.5 1400.7,421.5 1392.7,423.8 1396.2,425.1 1405.4,427.1 1391.3,429.5 1390.6,431.0 1391.2,432.8 1397.4,435.3 1414.6,436.4 1392.6,437.7 1393.8,439.7 1393.4,441.2 1390.8,442.5 1391.5,444.4 1391.7,446.8 1390.7,448.7 1390.8,450.3 1393.2,452.7 1390.3,455.1 1392.4,456.9 1390.0,458.9 1391.2,460.7 1395.9,462.4 1403.2,463.6 1390.8,465.4 1390.9,467.0 1404.8,469.2 1392.3,471.5 1402.0,472.7 1390.2,474.8 1392.5,477.0 1395.4,478.7 1391.2,480.1 1391.1,482.1 1392.7,483.2 1390.2,484.5 1392.7,485.5 1390.4,487.5 1391.6,489.9 1398.4,491.9 1393.4,493.1 1392.1,494.1 1392.8,496.1 1393.4,497.8 1400.9,500.0 1404.4,501.3 1405.5,503.1 1422.8,504.7 1391.4,506.9 1393.0,508.8 1393.7,510.8 1393.3,512.6 1393.1,515.1 1395.8,517.2 1390.7,518.3 1395.8,520.1 1391.7,521.3 1392.7,523.2 1393.7,524.5 1398.2,526.3 1391.7,527.5 1402.0,529.5 1391.7,531.4 1391.1,533.0 1390.1,534.8 1393.2,537.0 1405.9,539.1 1390.0,540.7 1392.3,542.7 1390.9,545.2 1397.7,547.3 1393.3,548.4 1391.6,550.1 1392.8,552.1 1396.0,554.4 1402.7,555.8 1393.4,558.1 1391.2,560.5 1393.3,562.4 1391.2,563.8 1392.0,565.2 1392.7,567.2 1391.5,568.7 1390.2,570.0 1390.5,572.1 1390.1,574.4 1391.8,576.5 1403.1,578.2 1391.5,580.2 1400.2,581.7 1390.9,583.4 1392.6,585.6 1392.3,587.2 1392.0,589.1 1395.2,590.4 1390.2,591.9 1392.5,593.1 1390.4,595.4 1391.6,597.2 1392.8,599.4 1391.0,601.2 1390.8,603.1 1398.3,604.9 1391.2,606.9 1395.7,608.4 1392.0,610.6 1399.3,612.9 1391.3,614.2 1401.5,616.6 1391.4,618.4 1391.6,620.4 1391.1,622.6 1393.2,623.8 1391.2,625.9 1391.8,627.1 1393.5,628.4 1392.5,630.0 1391.5,631.8 1391.2,633.1 1393.7,634.6 1390.1,636.2 1395.4,637.5 1392.6,639.5 1398.5,641.2 1392.4,642.8 1391.9,645.0 1403.5,646.5 1393.1,647.7 1420.8,649.7 1401.5,651.1 1395.9,652.7 1391.1,654.3 1399.8,655.7 1404.0,657.8" stroke="#00ffff" stroke-width="1.8"/>
<polyline points="1405.2,826.0 1392.4,828.3 1390.5,830.0 1390.9,831.3 1390.3,832.9 1392.1,835.0 1390.2,837.1 1392.6,839.3 1402.7,841.2 1392.3,843.4 1390.3,845.3 1399.4,847.1 1390.7,848.7 1393.3,850.0 1390.4,851.3 1392.3,852.3 1391.5,854.6 1393.1,856.0 1390.4,857.8 1403.3,860.0 1393.7,861.4 1395.9,863.3 1391.7,865.7 1401.0,866.8 1405.2,869.2 1416.2,871.0 1403.2,872.5 1391.9,873.8 1423.3,875.1 1392.1,876.5 1393.3,877.7 1393.6,879.1 1393.6,880.8 1401.0,883.0 1393.3,884.6 1391.2,886.6 1398.9,888.2 1391.7,890.0 1392.2,891.9 1393.8,894.2 1392.2,895.3 1391.9,896.7" stroke="#00ffff" stroke-width="1.8"/>
<line x1="1391.0" y1="292.6" x2="1478.6" y2="292.6" stroke="#00ffff" stroke-width="2.0"/>
<line x1="1391.0" y1="295.8" x2="1621.4" y2="295.8" stroke="#00ffff" stroke-width="2.0"/>
<line x1="1391.0" y1="302.8" x2="1621.4" y2="302.8" stroke="#00ffff" stroke-width="2.2"/>
<line x1="1391.0" y1="305.2" x2="1621.4" y2="305.2" stroke="#00ffff" stroke-width="2.0"/>
<line x1="1391.0" y1="313.4" x2="1589.0" y2="313.4" stroke="#00ffff" stroke-width="2.4"/>
<line x1="1391.0" y1="317.0" x2="1505.0" y2="317.0" stroke="#00ffff" stroke-width="2.0"/>
<line x1="1391.0" y1="322.6" x2="1457.0" y2="322.6" stroke="#00ffff" stroke-width="2.0"/>
<line x1="1391.0" y1="326.8" x2="1475.0" y2="326.8" stroke="#00ffff" stroke-width="2.0"/>
<line x1="1391.0" y1="353.8" x2="1427.0" y2="353.8" stroke="#00ffff" stroke-width="2.0"/>
<line x1="1391.0" y1="356.8" x2="1505.0" y2="356.8" stroke="#00ffff" stroke-width="2.0"/>
<line x1="1391.0" y1="359.4" x2="1511.0" y2="359.4" stroke="#00ffff" stroke-width="2.0"/>
<line x1="1391.0" y1="378.4" x2="1469.0" y2="378.4" stroke="#00ffff" stroke-width="2.0"/>
<line x1="1391.0" y1="388.6" x2="1463.0" y2="388.6" stroke="#00ffff" stroke-width="2.0"/>
<line x1="1391.0" y1="390.4" x2="1469.0" y2="390.4" stroke="#00ffff" stroke-width="2.0"/>
<line x1="1391.0" y1="400.4" x2="1621.4" y2="400.4" stroke="#00ffff" stroke-width="2.0"/>
<line x1="1391.0" y1="403.6" x2="1621.4" y2="403.6" stroke="#00ffff" stroke-width="2.0"/>
<line x1="1391.0" y1="400.6" x2="1621.4" y2="400.6" stroke="#00ffff" stroke-width="2.0"/>
<line x1="1469.0" y1="404.8" x2="1621.4" y2="404.8" stroke="#00ffff" stroke-width="3.0"/>
<line x1="1391.0" y1="416.2" x2="1621.4" y2="416.2" stroke="#00ffff" stroke-width="2.0"/>
<line x1="1517.0" y1="421.6" x2="1621.4" y2="421.6" stroke="#00ffff" stroke-width="2.0"/>
<line x1="1391.0" y1="424.0" x2="1445.0" y2="424.0" stroke="#00ffff" stroke-width="2.0"/>
<line x1="1391.0" y1="427.6" x2="1392.2" y2="427.6" stroke="#00ffff" stroke-width="2.0"/>
<line x1="1391.0" y1="432.4" x2="1413.8" y2="432.4" stroke="#00ffff" stroke-width="2.0"/>
<line x1="1391.0" y1="434.8" x2="1413.8" y2="434.8" stroke="#00ffff" stroke-width="2.0"/>
<line x1="1391.0" y1="439.6" x2="1440.8" y2="439.6" stroke="#00ffff" stroke-width="2.0"/>
<line x1="1391.0" y1="442.6" x2="1585.4" y2="442.6" stroke="#00ffff" stroke-width="2.0"/>
<line x1="1391.0" y1="445.6" x2="1400.6" y2="445.6" stroke="#00ffff" stroke-width="2.0"/>
<line x1="1391.0" y1="448.6" x2="1621.4" y2="448.6" stroke="#00ffff" stroke-width="2.0"/>
<line x1="1391.0" y1="458.2" x2="1451.0" y2="458.2" stroke="#00ffff" stroke-width="2.0"/>
<line x1="1391.0" y1="461.8" x2="1451.0" y2="461.8" stroke="#00ffff" stroke-width="2.0"/>
<line x1="1391.0" y1="465.4" x2="1621.4" y2="465.4" stroke="#00ffff" stroke-width="2.2"/>
<line x1="1391.0" y1="469.6" x2="1621.4" y2="469.6" stroke="#00ffff" stroke-width="2.0"/>
<line x1="1391.0" y1="478.6" x2="1621.4" y2="478.6" stroke="#00ffff" stroke-width="2.0"/>
<line x1="1391.0" y1="481.6" x2="1422.2" y2="481.6" stroke="#00ffff" stroke-width="2.0"/>
<line x1="1391.0" y1="500.8" x2="1478.6" y2="500.8" stroke="#00ffff" stroke-width="2.0"/>
<line x1="1391.0" y1="503.8" x2="1451.0" y2="503.8" stroke="#00ffff" stroke-width="2.0"/>
<line x1="1391.0" y1="506.2" x2="1445.0" y2="506.2" stroke="#00ffff" stroke-width="2.0"/>
<line x1="1391.0" y1="510.4" x2="1441.4" y2="510.4" stroke="#00ffff" stroke-width="2.0"/>
<line x1="1391.0" y1="514.0" x2="1524.2" y2="514.0" stroke="#00ffff" stroke-width="2.0"/>
<line x1="1391.0" y1="531.6" x2="1417.4" y2="531.6" stroke="#00ffff" stroke-width="2.0"/>
<line x1="1391.0" y1="535.2" x2="1621.4" y2="535.2" stroke="#00ffff" stroke-width="3.0"/>
<line x1="1536.2" y1="539.4" x2="1621.4" y2="539.4" stroke="#00ffff" stroke-width="2.0"/>
<line x1="1391.0" y1="549.0" x2="1413.8" y2="549.0" stroke="#00ffff" stroke-width="2.0"/>
<line x1="1391.0" y1="553.8" x2="1403.0" y2="553.8" stroke="#00ffff" stroke-width="2.0"/>
<line x1="1391.0" y1="574.8" x2="1406.6" y2="574.8" stroke="#00ffff" stroke-width="2.0"/>
<line x1="1391.0" y1="600.0" x2="1443.8" y2="600.0" stroke="#00ffff" stroke-width="2.0"/>
<line x1="1391.0" y1="602.8" x2="1472.6" y2="602.8" stroke="#00ffff" stroke-width="2.0"/>
<line x1="1391.0" y1="610.2" x2="1407.8" y2="610.2" stroke="#00ffff" stroke-width="2.0"/>
<line x1="1391.0" y1="613.2" x2="1406.0" y2="613.2" stroke="#00ffff" stroke-width="2.0"/>
<line x1="1391.0" y1="621.0" x2="1409.0" y2="621.0" stroke="#00ffff" stroke-width="2.0"/>
<line x1="1391.0" y1="625.2" x2="1415.0" y2="625.2" stroke="#00ffff" stroke-width="2.0"/>
<line x1="1421.0" y1="636.6" x2="1621.4" y2="636.6" stroke="#00ffff" stroke-width="2.0"/>
<line x1="1443.8" y1="639.0" x2="1621.4" y2="639.0" stroke="#00ffff" stroke-width="2.4"/>
<line x1="1391.0" y1="653.4" x2="1412.6" y2="653.4" stroke="#00ffff" stroke-width="2.0"/>
<line x1="1391.0" y1="653.0" x2="1412.6" y2="653.0" stroke="#00ffff" stroke-width="2.0"/>
<polyline points="1391.0,669.2 1425.8,674.6 1469.0,677.6 1508.6,681.8 1529.0,684.2 1505.0,688.4 1469.0,696.8 1427.0,702.8 1391.0,706.4 1391.0,708.8 1406.6,712.4 1398.2,715.4 1422.2,717.8 1407.8,719.6 1395.8,723.2 1399.4,726.8 1457.0,728.0 1445.0,730.4 1490.6,732.8 1514.6,734.0 1437.8,738.2 1459.4,741.8 1422.2,746.0 1443.8,750.2 1421.0,752.0 1451.0,755.6 1471.4,757.4 1452.2,759.8 1466.6,762.2 1509.8,767.0 1517.0,771.8 1499.0,776.6 1513.4,780.0 1513.4,775.0 1497.8,776.2 1512.2,779.8 1525.4,782.8 1548.2,785.8 1541.0,788.2 1520.6,791.8 1508.6,797.8 1529.0,801.4 1541.0,807.4 1524.2,813.4 1553.0,816.4 1536.2,820.0 1621.4,821.2" stroke="#00ffff" stroke-width="2.05"/>
<line x1="1391.0" y1="828.0" x2="1621.4" y2="828.0" stroke="#00ffff" stroke-width="5.4"/>
<line x1="1391.0" y1="827.8" x2="1416.2" y2="827.8" stroke="#00ffff" stroke-width="2.0"/>
<line x1="1391.0" y1="851.8" x2="1621.4" y2="851.8" stroke="#00ffff" stroke-width="2.0"/>
<line x1="1411.4" y1="874.6" x2="1621.4" y2="874.6" stroke="#00ffff" stroke-width="2.4"/>
<line x1="1433.0" y1="879.6" x2="1621.4" y2="879.6" stroke="#00ffff" stroke-width="4.2"/>
<line x1="1457.0" y1="889.0" x2="1621.4" y2="889.0" stroke="#00ffff" stroke-width="2.0"/>
<line x1="1391.0" y1="898.6" x2="1475.0" y2="898.6" stroke="#00ffff" stroke-width="2.0"/>
<line x1="1391.0" y1="906.0" x2="1621.4" y2="906.0" stroke="#00ffff" stroke-width="2.0"/>
<polyline points="1391.0,968.4 1394.6,969.6 1391.0,972.0 1391.0,979.2 1440.2,982.8 1421.0,988.8 1400.6,999.6 1391.0,1002.0" stroke="#00ffff" stroke-width="2.05"/>
<line x1="1391.0" y1="1002.0" x2="1488.2" y2="1002.0" stroke="#00ffff" stroke-width="2.0"/>
<polyline points="1391.0,1027.2 1397.0,1029.6 1404.2,1036.9 1391.0,1045.5" stroke="#00ffff" stroke-width="2.05"/>
<line x1="1391.0" y1="1053.1" x2="1623.3" y2="1053.1" stroke="#00ffff" stroke-width="2.0"/>
<line x1="1391.0" y1="1173.9" x2="1623.3" y2="1173.9" stroke="#00ffff" stroke-width="2.0"/>
<polyline points="1623.3,1054.1 1510.8,1056.1 1471.0,1060.1 1451.2,1065.4 1448.5,1070.7 1445.2,1073.3 1447.2,1080.6 1449.9,1085.9 1453.8,1101.8 1456.5,1115.0 1455.2,1128.3 1448.5,1150.8 1447.2,1161.4 1459.1,1168.0 1490.9,1170.6 1623.3,1173.0" stroke="#00ffff" stroke-width="2.05"/>
<polyline points="1391.0,1183.9 1398.2,1190.5 1398.9,1198.4" stroke="#00ffff" stroke-width="2.05"/>
<line x1="1390.0" y1="144.4" x2="1622.0" y2="144.4" stroke="#00ff00" stroke-width="2.0"/>
<line x1="1390.0" y1="147.0" x2="1558.5" y2="147.0" stroke="#00ff00" stroke-width="2.2"/>
<line x1="1390.0" y1="151.0" x2="1622.0" y2="151.0" stroke="#00ff00" stroke-width="2.2"/>
<line x1="1390.0" y1="166.9" x2="1622.0" y2="166.9" stroke="#00ff00" stroke-width="2.5"/>
<line x1="1390.0" y1="170.4" x2="1464.3" y2="170.4" stroke="#00ff00" stroke-width="2.5"/>
<line x1="1390.0" y1="174.5" x2="1622.0" y2="174.5" stroke="#00ff00" stroke-width="2.7"/>
<line x1="1390.0" y1="178.2" x2="1395.0" y2="178.2" stroke="#00ff00" stroke-width="3.1"/>
<line x1="1390.0" y1="182.3" x2="1470.6" y2="182.3" stroke="#00ff00" stroke-width="2.9"/>
<line x1="1390.0" y1="184.4" x2="1622.0" y2="184.4" stroke="#00ff00" stroke-width="3.4"/>
<line x1="1390.0" y1="189.7" x2="1413.8" y2="189.7" stroke="#00ff00" stroke-width="3.1"/>
<line x1="1390.0" y1="196.0" x2="1622.0" y2="196.0" stroke="#00ff00" stroke-width="3.4"/>
<line x1="1390.0" y1="201.3" x2="1622.0" y2="201.3" stroke="#00ff00" stroke-width="3.0"/>
<line x1="1390.0" y1="205.7" x2="1622.0" y2="205.7" stroke="#00ff00" stroke-width="3.5"/>
<line x1="1390.0" y1="209.1" x2="1622.0" y2="209.1" stroke="#00ff00" stroke-width="2.9"/>
<line x1="1390.0" y1="213.1" x2="1622.0" y2="213.1" stroke="#00ff00" stroke-width="2.1"/>
<line x1="1390.0" y1="217.4" x2="1622.0" y2="217.4" stroke="#00ff00" stroke-width="3.3"/>
<line x1="1390.0" y1="222.0" x2="1622.0" y2="222.0" stroke="#00ff00" stroke-width="3.3"/>
<line x1="1390.0" y1="224.8" x2="1577.5" y2="224.8" stroke="#00ff00" stroke-width="3.5"/>
<line x1="1390.0" y1="227.9" x2="1495.4" y2="227.9" stroke="#00ff00" stroke-width="2.4"/>
<line x1="1390.0" y1="230.9" x2="1622.0" y2="230.9" stroke="#00ff00" stroke-width="3.5"/>
<line x1="1390.0" y1="237.5" x2="1580.8" y2="237.5" stroke="#00ff00" stroke-width="2.5"/>
<line x1="1390.0" y1="269.5" x2="1596.2" y2="269.5" stroke="#00ff00" stroke-width="2.7"/>
<line x1="1390.0" y1="124.8" x2="1487.5" y2="124.8" stroke="#00ff00" stroke-width="2"/>
<line x1="1391.0" y1="288.0" x2="1539.8" y2="288.0" stroke="#00ff00" stroke-width="3.0"/>
<line x1="1391.0" y1="299.2" x2="1535.0" y2="299.2" stroke="#00ff00" stroke-width="2.4"/>
<line x1="1391.0" y1="308.4" x2="1621.4" y2="308.4" stroke="#00ff00" stroke-width="3.0"/>
<line x1="1391.0" y1="314.2" x2="1467.8" y2="314.2" stroke="#00ff00" stroke-width="2.0"/>
<line x1="1391.0" y1="331.4" x2="1488.2" y2="331.4" stroke="#00ff00" stroke-width="3.0"/>
<line x1="1391.0" y1="332.2" x2="1553.0" y2="332.2" stroke="#00ff00" stroke-width="2.0"/>
<line x1="1391.0" y1="341.2" x2="1621.4" y2="341.2" stroke="#00ff00" stroke-width="2.4"/>
<line x1="1391.0" y1="344.8" x2="1469.0" y2="344.8" stroke="#00ff00" stroke-width="2.0"/>
<line x1="1391.0" y1="347.2" x2="1445.0" y2="347.2" stroke="#00ff00" stroke-width="2.0"/>
<line x1="1391.0" y1="349.0" x2="1421.0" y2="349.0" stroke="#00ff00" stroke-width="2.0"/>
<line x1="1391.0" y1="371.2" x2="1621.4" y2="371.2" stroke="#00ff00" stroke-width="16.8"/>
<line x1="1391.0" y1="382.0" x2="1457.0" y2="382.0" stroke="#00ff00" stroke-width="2.0"/>
<line x1="1391.0" y1="385.6" x2="1469.0" y2="385.6" stroke="#00ff00" stroke-width="2.0"/>
<line x1="1391.0" y1="395.8" x2="1621.4" y2="395.8" stroke="#00ff00" stroke-width="4.8"/>
<line x1="1391.0" y1="407.8" x2="1430.6" y2="407.8" stroke="#00ff00" stroke-width="2.4"/>
<line x1="1391.0" y1="405.4" x2="1429.4" y2="405.4" stroke="#00ff00" stroke-width="2.0"/>
<line x1="1391.0" y1="408.4" x2="1429.4" y2="408.4" stroke="#00ff00" stroke-width="2.0"/>
<line x1="1391.0" y1="411.4" x2="1429.4" y2="411.4" stroke="#00ff00" stroke-width="2.0"/>
<line x1="1391.0" y1="415.0" x2="1413.8" y2="415.0" stroke="#00ff00" stroke-width="2.0"/>
<line x1="1391.0" y1="421.8" x2="1621.4" y2="421.8" stroke="#00ff00" stroke-width="5.4"/>
<line x1="1391.0" y1="451.0" x2="1493.0" y2="451.0" stroke="#00ff00" stroke-width="2.0"/>
<line x1="1391.0" y1="472.0" x2="1415.0" y2="472.0" stroke="#00ff00" stroke-width="2.0"/>
<line x1="1391.0" y1="475.6" x2="1621.4" y2="475.6" stroke="#00ff00" stroke-width="3.6"/>
<line x1="1391.0" y1="484.6" x2="1446.2" y2="484.6" stroke="#00ff00" stroke-width="2.0"/>
<line x1="1391.0" y1="486.2" x2="1621.4" y2="486.2" stroke="#00ff00" stroke-width="2.2"/>
<line x1="1391.0" y1="495.4" x2="1621.4" y2="495.4" stroke="#00ff00" stroke-width="2.4"/>
<line x1="1391.0" y1="497.8" x2="1536.2" y2="497.8" stroke="#00ff00" stroke-width="2.0"/>
<line x1="1391.0" y1="516.4" x2="1621.4" y2="516.4" stroke="#00ff00" stroke-width="2.0"/>
<line x1="1519.4" y1="518.8" x2="1621.4" y2="518.8" stroke="#00ff00" stroke-width="2.0"/>
<line x1="1391.0" y1="522.4" x2="1621.4" y2="522.4" stroke="#00ff00" stroke-width="2.4"/>
<line x1="1391.0" y1="531.6" x2="1398.2" y2="531.6" stroke="#00ff00" stroke-width="2.0"/>
<line x1="1391.0" y1="536.4" x2="1415.0" y2="536.4" stroke="#00ff00" stroke-width="2.0"/>
<line x1="1391.0" y1="540.8" x2="1621.4" y2="540.8" stroke="#00ff00" stroke-width="4.2"/>
<line x1="1391.0" y1="551.6" x2="1621.4" y2="551.6" stroke="#00ff00" stroke-width="2.2"/>
<line x1="1391.0" y1="562.2" x2="1505.0" y2="562.2" stroke="#00ff00" stroke-width="2.0"/>
<line x1="1391.0" y1="564.6" x2="1621.4" y2="564.6" stroke="#00ff00" stroke-width="2.4"/>
<line x1="1391.0" y1="569.6" x2="1621.4" y2="569.6" stroke="#00ff00" stroke-width="4.8"/>
<line x1="1391.0" y1="572.0" x2="1493.0" y2="572.0" stroke="#00ff00" stroke-width="2.0"/>
<line x1="1391.0" y1="579.6" x2="1397.0" y2="579.6" stroke="#00ff00" stroke-width="2.0"/>
<line x1="1391.0" y1="582.6" x2="1429.4" y2="582.6" stroke="#00ff00" stroke-width="2.0"/>
<line x1="1391.0" y1="583.8" x2="1593.8" y2="583.8" stroke="#00ff00" stroke-width="2.0"/>
<line x1="1391.0" y1="593.4" x2="1621.4" y2="593.4" stroke="#00ff00" stroke-width="2.0"/>
<line x1="1391.0" y1="597.6" x2="1621.4" y2="597.6" stroke="#00ff00" stroke-width="3.6"/>
<line x1="1472.6" y1="603.2" x2="1621.4" y2="603.2" stroke="#00ff00" stroke-width="2.0"/>
<line x1="1391.0" y1="604.8" x2="1520.6" y2="604.8" stroke="#00ff00" stroke-width="2.0"/>
<line x1="1391.0" y1="607.8" x2="1419.8" y2="607.8" stroke="#00ff00" stroke-width="2.0"/>
<line x1="1391.0" y1="629.6" x2="1621.4" y2="629.6" stroke="#00ff00" stroke-width="3.8"/>
<line x1="1391.0" y1="640.0" x2="1433.0" y2="640.0" stroke="#00ff00" stroke-width="2.0"/>
<line x1="1391.0" y1="641.4" x2="1505.0" y2="641.4" stroke="#00ff00" stroke-width="2.0"/>
<line x1="1521.8" y1="644.4" x2="1621.4" y2="644.4" stroke="#00ff00" stroke-width="2.0"/>
<line x1="1391.0" y1="648.6" x2="1621.4" y2="648.6" stroke="#00ff00" stroke-width="4.8"/>
<line x1="1412.6" y1="654.0" x2="1621.4" y2="654.0" stroke="#00ff00" stroke-width="2.0"/>
<line x1="1391.0" y1="650.8" x2="1621.4" y2="650.8" stroke="#00ff00" stroke-width="2.2"/>
<line x1="1391.0" y1="655.0" x2="1621.4" y2="655.0" stroke="#00ff00" stroke-width="2.0"/>
<line x1="1391.0" y1="660.2" x2="1621.4" y2="660.2" stroke="#00ff00" stroke-width="6.0"/>
<line x1="1391.0" y1="666.8" x2="1621.4" y2="666.8" stroke="#00ff00" stroke-width="2.6"/>
<polyline points="1391.0,670.4 1442.6,672.8 1469.0,676.4 1511.0,678.8 1526.6,680.6 1542.2,684.0 1529.0,684.8 1521.8,688.4 1531.4,690.8 1518.2,693.2 1526.6,698.0 1497.8,699.8 1573.4,702.8 1523.0,704.6 1505.0,706.4 1424.6,708.2 1409.0,712.4 1421.0,714.8 1621.4,716.6" stroke="#00ff00" stroke-width="2.05"/>
<line x1="1577.0" y1="718.4" x2="1621.4" y2="718.4" stroke="#00ff00" stroke-width="3.0"/>
<polyline points="1621.4,722.6 1541.0,725.0 1439.0,726.8 1418.6,731.0 1457.0,734.0 1543.4,740.6 1487.0,742.4 1463.0,747.2 1509.8,750.8 1459.4,750.2 1453.4,756.8 1466.6,761.6 1517.0,766.4 1538.6,774.8 1530.2,780.0 1530.2,775.0 1538.6,775.6 1529.0,778.6 1531.4,782.2 1526.6,784.0 1535.0,786.4 1539.8,789.4 1529.0,795.4 1517.0,802.6 1505.0,809.8 1514.6,813.4 1520.6,818.2 1526.6,820.0 1517.0,823.0 1496.6,824.8 1469.0,827.8 1421.0,830.2 1391.0,832.0" stroke="#00ff00" stroke-width="2.05"/>
<line x1="1391.0" y1="832.6" x2="1417.4" y2="832.6" stroke="#00ff00" stroke-width="2.0"/>
<line x1="1391.0" y1="835.0" x2="1621.4" y2="835.0" stroke="#00ff00" stroke-width="2.0"/>
<line x1="1553.0" y1="842.2" x2="1621.4" y2="842.2" stroke="#00ff00" stroke-width="2.0"/>
<line x1="1391.0" y1="844.4" x2="1621.4" y2="844.4" stroke="#00ff00" stroke-width="4.2"/>
<line x1="1391.0" y1="850.0" x2="1417.4" y2="850.0" stroke="#00ff00" stroke-width="2.0"/>
<line x1="1391.0" y1="854.8" x2="1406.6" y2="854.8" stroke="#00ff00" stroke-width="2.0"/>
<line x1="1391.0" y1="857.8" x2="1447.4" y2="857.8" stroke="#00ff00" stroke-width="2.0"/>
<line x1="1391.0" y1="870.0" x2="1621.4" y2="870.0" stroke="#00ff00" stroke-width="5.4"/>
<line x1="1391.0" y1="875.8" x2="1411.4" y2="875.8" stroke="#00ff00" stroke-width="2.0"/>
<line x1="1391.0" y1="879.4" x2="1433.0" y2="879.4" stroke="#00ff00" stroke-width="2.0"/>
<line x1="1391.0" y1="883.0" x2="1433.0" y2="883.0" stroke="#00ff00" stroke-width="2.0"/>
<line x1="1391.0" y1="886.0" x2="1541.0" y2="886.0" stroke="#00ff00" stroke-width="2.0"/>
<line x1="1391.0" y1="895.0" x2="1621.4" y2="895.0" stroke="#00ff00" stroke-width="4.8"/>
<line x1="1391.0" y1="896.8" x2="1531.4" y2="896.8" stroke="#00ff00" stroke-width="2.0"/>
<line x1="1391.0" y1="902.2" x2="1621.4" y2="902.2" stroke="#00ff00" stroke-width="4.8"/>
<line x1="1391.0" y1="903.0" x2="1621.4" y2="903.0" stroke="#00ff00" stroke-width="5.4"/>
<line x1="1391.0" y1="915.8" x2="1621.4" y2="915.8" stroke="#00ff00" stroke-width="3.0"/>
<line x1="1391.0" y1="920.4" x2="1621.4" y2="920.4" stroke="#00ff00" stroke-width="3.6"/>
<line x1="1391.0" y1="923.4" x2="1590.2" y2="923.4" stroke="#00ff00" stroke-width="2.0"/>
<line x1="1391.0" y1="925.4" x2="1573.4" y2="925.4" stroke="#00ff00" stroke-width="2.0"/>
<polyline points="1421.0,927.6 1397.0,930.0 1391.0,933.6 1392.2,936.0 1406.6,942.0 1415.0,945.0 1398.2,949.2 1395.8,954.0 1401.8,958.8 1403.0,963.6 1417.4,966.6 1409.0,970.8 1407.8,976.8 1459.4,982.2 1418.6,988.8 1399.4,999.6 1436.6,1006.8 1457.0,1018.8 1447.4,1030.0 1453.8,1025.0 1447.9,1029.6 1449.9,1032.9 1453.8,1035.6 1459.1,1040.9 1457.1,1044.9 1457.8,1051.5 1459.1,1055.4 1467.1,1064.7 1475.0,1078.0 1484.3,1095.2 1490.9,1108.4 1494.9,1125.6 1495.5,1140.2 1500.2,1154.7 1512.1,1168.0" stroke="#00ff00" stroke-width="2.05"/>
</g>
<rect x="1390.50" y="123.5" width="230.0" height="1075.00" fill="none" stroke="#000" stroke-width="1.2"/>
<rect x="1489.1" y="330" width="88.5" height="71.5" fill="#eff1f5" fill-opacity="0.8"/>
<text x="1495.66" y="348.70" font-size="15.80" textLength="7.55" lengthAdjust="spacingAndGlyphs" fill="#000" font-style="italic" font-family="'Liberation Sans', sans-serif" >η</text>
<text x="1504.56" y="352.30" font-size="10.50" textLength="19.73" lengthAdjust="spacingAndGlyphs" fill="#000" font-family="'Liberation Sans', sans-serif" >355</text>
<text x="1524.93" y="349.70" font-size="17.70" textLength="5.44" lengthAdjust="spacingAndGlyphs" fill="#000" >:</text>
<text x="1536.38" y="349.70" font-size="17.70" textLength="33.17" lengthAdjust="spacingAndGlyphs" fill="#000" >9.43</text>
<text x="1495.66" y="370.50" font-size="15.80" textLength="7.55" lengthAdjust="spacingAndGlyphs" fill="#000" font-style="italic" font-family="'Liberation Sans', sans-serif" >η</text>
<text x="1504.52" y="374.10" font-size="10.50" textLength="19.88" lengthAdjust="spacingAndGlyphs" fill="#000" font-family="'Liberation Sans', sans-serif" >532</text>
<text x="1524.93" y="371.50" font-size="17.70" textLength="5.44" lengthAdjust="spacingAndGlyphs" fill="#000" >:</text>
<text x="1535.98" y="371.50" font-size="17.70" textLength="33.58" lengthAdjust="spacingAndGlyphs" fill="#000" >6.63</text>
<text x="1495.66" y="390.50" font-size="15.80" textLength="7.55" lengthAdjust="spacingAndGlyphs" fill="#000" font-style="italic" font-family="'Liberation Sans', sans-serif" >η</text>
<text x="1504.08" y="394.10" font-size="10.50" textLength="27.18" lengthAdjust="spacingAndGlyphs" fill="#000" font-family="'Liberation Sans', sans-serif" >1064</text>
<text x="1531.57" y="391.50" font-size="17.70" textLength="5.68" lengthAdjust="spacingAndGlyphs" fill="#000" >:</text>
<text x="1543.05" y="391.50" font-size="17.70" textLength="28.72" lengthAdjust="spacingAndGlyphs" fill="#000" >nan</text>
<rect x="1380.60" y="131.40" width="231.70" height="152.65" rx="3" fill="#fff" fill-opacity="0.8" stroke="#cccccc" stroke-opacity="0.8" stroke-width="1"/>
<line x1="1386.10" y1="144.40" x2="1419.00" y2="144.40" stroke="#0000ff" stroke-width="2"/>
<text x="1431.12" y="149.80" font-size="17.14" textLength="165.28" lengthAdjust="spacingAndGlyphs" fill="#000" >parDepol_raman_355</text>
<line x1="1386.10" y1="169.13" x2="1419.00" y2="169.13" stroke="#008000" stroke-width="2"/>
<text x="1431.12" y="174.53" font-size="17.14" textLength="165.22" lengthAdjust="spacingAndGlyphs" fill="#000" >parDepol_raman_532</text>
<line x1="1386.10" y1="193.86" x2="1419.00" y2="193.86" stroke="#ff0000" stroke-width="2"/>
<text x="1431.12" y="199.26" font-size="17.14" textLength="174.94" lengthAdjust="spacingAndGlyphs" fill="#000" >parDepol_raman_1064</text>
<line x1="1386.10" y1="218.59" x2="1419.00" y2="218.59" stroke="#00ffff" stroke-width="2"/>
<text x="1431.12" y="223.99" font-size="17.14" textLength="150.91" lengthAdjust="spacingAndGlyphs" fill="#000" >parDepol_klett_355</text>
<line x1="1386.10" y1="243.32" x2="1419.00" y2="243.32" stroke="#00ff00" stroke-width="2"/>
<text x="1431.12" y="248.72" font-size="17.14" textLength="150.85" lengthAdjust="spacingAndGlyphs" fill="#000" >parDepol_klett_532</text>
<line x1="1386.10" y1="268.05" x2="1419.00" y2="268.05" stroke="#fa8072" stroke-width="2"/>
<text x="1431.12" y="273.45" font-size="17.14" textLength="160.54" lengthAdjust="spacingAndGlyphs" fill="#000" >parDepol_klett_1064</text>
<line x1="1702.50" y1="123.5" x2="1702.50" y2="1198.5" stroke="#b0b0b0" stroke-width="1"/>
<line x1="1794.50" y1="123.5" x2="1794.50" y2="1198.5" stroke="#b0b0b0" stroke-width="1"/>
<line x1="1886.50" y1="123.5" x2="1886.50" y2="1198.5" stroke="#b0b0b0" stroke-width="1"/>
<line x1="1702.5" y1="1198.50" x2="1932.50" y2="1198.50" stroke="#b0b0b0" stroke-width="1"/>
<line x1="1702.5" y1="1079.50" x2="1932.50" y2="1079.50" stroke="#b0b0b0" stroke-width="1"/>
<line x1="1702.5" y1="959.50" x2="1932.50" y2="959.50" stroke="#b0b0b0" stroke-width="1"/>
<line x1="1702.5" y1="840.50" x2="1932.50" y2="840.50" stroke="#b0b0b0" stroke-width="1"/>
<line x1="1702.5" y1="720.50" x2="1932.50" y2="720.50" stroke="#b0b0b0" stroke-width="1"/>
<line x1="1702.5" y1="601.50" x2="1932.50" y2="601.50" stroke="#b0b0b0" stroke-width="1"/>
<line x1="1702.5" y1="481.50" x2="1932.50" y2="481.50" stroke="#b0b0b0" stroke-width="1"/>
<line x1="1702.5" y1="362.50" x2="1932.50" y2="362.50" stroke="#b0b0b0" stroke-width="1"/>
<line x1="1702.5" y1="242.50" x2="1932.50" y2="242.50" stroke="#b0b0b0" stroke-width="1"/>
<line x1="1702.5" y1="123.50" x2="1932.50" y2="123.50" stroke="#b0b0b0" stroke-width="1"/>
<path d="M1696.00 1198.00H1702.50M1932.50 1198.00H1939.00M1696.00 1079.00H1702.50M1932.50 1079.00H1939.00M1696.00 960.00H1702.50M1932.50 960.00H1939.00M1696.00 840.00H1702.50M1932.50 840.00H1939.00M1696.00 721.00H1702.50M1932.50 721.00H1939.00M1696.00 601.00H1702.50M1932.50 601.00H1939.00M1696.00 482.00H1702.50M1932.50 482.00H1939.00M1696.00 362.00H1702.50M1932.50 362.00H1939.00M1696.00 243.00H1702.50M1932.50 243.00H1939.00M1696.00 123.00H1702.50M1932.50 123.00H1939.00M1702.00 1198.50V1205.00M1794.00 1198.50V1205.00M1886.00 1198.50V1205.00M1702.00 123.50V117.00M1760.00 123.50V117.00M1817.00 123.50V117.00M1875.00 123.50V117.00M1932.00 123.50V117.00" stroke="#000" stroke-width="2" fill="none"/>
<text x="1681.61" y="1204.80" font-size="17.92" textLength="9.51" lengthAdjust="spacingAndGlyphs" fill="#000" >0</text>
<text x="1682.03" y="1085.36" font-size="17.92" textLength="9.40" lengthAdjust="spacingAndGlyphs" fill="#000" >2</text>
<text x="1681.14" y="965.91" font-size="17.92" textLength="9.55" lengthAdjust="spacingAndGlyphs" fill="#000" >4</text>
<text x="1681.52" y="846.47" font-size="17.92" textLength="9.45" lengthAdjust="spacingAndGlyphs" fill="#000" >6</text>
<text x="1681.65" y="727.02" font-size="17.92" textLength="9.46" lengthAdjust="spacingAndGlyphs" fill="#000" >8</text>
<text x="1671.30" y="607.58" font-size="17.92" textLength="19.84" lengthAdjust="spacingAndGlyphs" fill="#000" >10</text>
<text x="1671.84" y="488.13" font-size="17.92" textLength="19.64" lengthAdjust="spacingAndGlyphs" fill="#000" >12</text>
<text x="1671.08" y="368.69" font-size="17.92" textLength="19.61" lengthAdjust="spacingAndGlyphs" fill="#000" >14</text>
<text x="1671.27" y="249.24" font-size="17.92" textLength="19.72" lengthAdjust="spacingAndGlyphs" fill="#000" >16</text>
<text x="1671.30" y="129.80" font-size="17.92" textLength="19.84" lengthAdjust="spacingAndGlyphs" fill="#000" >18</text>
<text x="1697.75" y="1220.00" font-size="17.92" textLength="9.51" lengthAdjust="spacingAndGlyphs" fill="#000" >0</text>
<text x="1784.49" y="1220.00" font-size="17.92" textLength="19.88" lengthAdjust="spacingAndGlyphs" fill="#000" >20</text>
<text x="1876.68" y="1220.00" font-size="17.92" textLength="19.99" lengthAdjust="spacingAndGlyphs" fill="#000" >40</text>
<text x="1697.75" y="109.90" font-size="17.92" textLength="9.51" lengthAdjust="spacingAndGlyphs" fill="#000" >0</text>
<text x="1750.07" y="109.90" font-size="17.92" textLength="19.76" lengthAdjust="spacingAndGlyphs" fill="#000" >25</text>
<text x="1807.38" y="109.90" font-size="17.92" textLength="19.85" lengthAdjust="spacingAndGlyphs" fill="#000" >50</text>
<text x="1864.81" y="109.90" font-size="17.92" textLength="19.89" lengthAdjust="spacingAndGlyphs" fill="#000" >75</text>
<text x="1916.99" y="109.90" font-size="17.92" textLength="30.02" lengthAdjust="spacingAndGlyphs" fill="#000" >100</text>
<g clip-path="url(#c5)" fill="none" stroke-linejoin="round" stroke-linecap="butt">
<line x1="1758.3" y1="169" x2="1934" y2="169.5" stroke="#0000ff" stroke-width="2"/>
<line x1="1715.2" y1="189.5" x2="1738.4" y2="190.0" stroke="#0000ff" stroke-width="2"/>
<line x1="1740.3" y1="201.7" x2="1934" y2="202.2" stroke="#0000ff" stroke-width="2"/>
<line x1="1713.4" y1="521.8" x2="1726.3" y2="522.3" stroke="#0000ff" stroke-width="2"/>
<line x1="1728.1" y1="596.8" x2="1799.9" y2="597.3" stroke="#0000ff" stroke-width="2"/>
<line x1="1706.0" y1="730.9" x2="1793.1" y2="730.9" stroke="#0000ff" stroke-width="2.0"/>
<line x1="1750.1" y1="841.3" x2="1933.1" y2="841.3" stroke="#0000ff" stroke-width="2.0"/>
<line x1="1736.9" y1="905.3" x2="1750.8" y2="905.3" stroke="#0000ff" stroke-width="2.0"/>
<line x1="1723.0" y1="932.9" x2="1754.5" y2="932.9" stroke="#0000ff" stroke-width="2.0"/>
<line x1="1708.2" y1="946.7" x2="1761.8" y2="946.7" stroke="#0000ff" stroke-width="2.0"/>
<line x1="1713.7" y1="968.6" x2="1789.2" y2="968.6" stroke="#0000ff" stroke-width="2.0"/>
<line x1="1720.4" y1="972.1" x2="1735.8" y2="972.1" stroke="#0000ff" stroke-width="2.0"/>
<line x1="1704.9" y1="984.9" x2="1762.3" y2="984.9" stroke="#0000ff" stroke-width="2.0"/>
<line x1="1796.4" y1="982.9" x2="1803.0" y2="982.9" stroke="#0000ff" stroke-width="2.0"/>
<line x1="1707.1" y1="994.6" x2="1723.2" y2="994.6" stroke="#0000ff" stroke-width="2.0"/>
<line x1="1724.8" y1="997.7" x2="1745.3" y2="997.7" stroke="#0000ff" stroke-width="2.0"/>
<line x1="1839.4" y1="946.5" x2="1933.1" y2="946.5" stroke="#008000" stroke-width="2.0"/>
<line x1="1926.5" y1="968.4" x2="1933.1" y2="968.4" stroke="#008000" stroke-width="2.0"/>
<line x1="1746.2" y1="985.1" x2="1933.1" y2="985.1" stroke="#008000" stroke-width="2.2"/>
<line x1="1793.6" y1="994.8" x2="1933.1" y2="994.8" stroke="#008000" stroke-width="2.0"/>
<line x1="1805.3" y1="999.2" x2="1933.1" y2="999.2" stroke="#008000" stroke-width="2.0"/>
<line x1="1793.6" y1="994.9" x2="1932.7" y2="994.9" stroke="#008000" stroke-width="2.2"/>
<line x1="1805.9" y1="999.2" x2="1929.6" y2="999.2" stroke="#008000" stroke-width="2.2"/>
<line x1="1712.2" y1="1004.7" x2="1932.7" y2="1004.7" stroke="#008000" stroke-width="2.2"/>
<line x1="1726.9" y1="1011.8" x2="1932.7" y2="1011.8" stroke="#008000" stroke-width="2.2"/>
<line x1="1755.0" y1="1013.0" x2="1932.7" y2="1013.0" stroke="#008000" stroke-width="2.2"/>
<line x1="1788.1" y1="1014.5" x2="1932.7" y2="1014.5" stroke="#008000" stroke-width="2.2"/>
<line x1="1808.3" y1="1017.0" x2="1932.7" y2="1017.0" stroke="#008000" stroke-width="2.2"/>
<line x1="1789.3" y1="1022.8" x2="1932.7" y2="1022.8" stroke="#008000" stroke-width="2.2"/>
<line x1="1710.9" y1="1026.5" x2="1932.7" y2="1026.5" stroke="#008000" stroke-width="2.2"/>
<line x1="1857.3" y1="1031.4" x2="1932.7" y2="1031.4" stroke="#008000" stroke-width="2.2"/>
<line x1="1730.5" y1="1035.9" x2="1888.6" y2="1035.9" stroke="#008000" stroke-width="2.2"/>
<line x1="1761.2" y1="1037.2" x2="1930.2" y2="1037.2" stroke="#008000" stroke-width="2.2"/>
<line x1="1779.5" y1="1039.0" x2="1845.1" y2="1039.0" stroke="#008000" stroke-width="2.2"/>
<line x1="1715.8" y1="1043.7" x2="1932.7" y2="1043.7" stroke="#008000" stroke-width="2.2"/>
<line x1="1715.2" y1="1047.0" x2="1925.9" y2="1047.0" stroke="#008000" stroke-width="2.2"/>
<line x1="1815.1" y1="1050.0" x2="1932.7" y2="1050.0" stroke="#008000" stroke-width="2.2"/>
<line x1="1833.4" y1="1050.8" x2="1889.8" y2="1050.8" stroke="#008000" stroke-width="2.2"/>
<line x1="1782.0" y1="1053.7" x2="1932.7" y2="1053.7" stroke="#008000" stroke-width="2.2"/>
<line x1="1815.1" y1="1055.5" x2="1932.7" y2="1055.5" stroke="#008000" stroke-width="2.2"/>
<line x1="1748.3" y1="1057.4" x2="1869.0" y2="1057.4" stroke="#008000" stroke-width="2.2"/>
<line x1="1759.9" y1="1059.2" x2="1860.4" y2="1059.2" stroke="#008000" stroke-width="2.2"/>
<line x1="1723.2" y1="1061.1" x2="1860.4" y2="1061.1" stroke="#008000" stroke-width="2.2"/>
<line x1="1718.3" y1="1062.9" x2="1932.7" y2="1062.9" stroke="#008000" stroke-width="2.2"/>
<line x1="1784.4" y1="1064.7" x2="1932.7" y2="1064.7" stroke="#008000" stroke-width="2.2"/>
<line x1="1720.7" y1="1066.6" x2="1911.8" y2="1066.6" stroke="#008000" stroke-width="2.2"/>
<line x1="1715.8" y1="1068.4" x2="1859.2" y2="1068.4" stroke="#008000" stroke-width="2.2"/>
<line x1="1733.0" y1="1070.2" x2="1867.7" y2="1070.2" stroke="#008000" stroke-width="2.2"/>
<line x1="1810.2" y1="1073.3" x2="1930.8" y2="1073.3" stroke="#008000" stroke-width="2.2"/>
<line x1="1758.1" y1="1075.1" x2="1834.7" y2="1075.1" stroke="#008000" stroke-width="2.2"/>
<line x1="1714.6" y1="1077.2" x2="1826.1" y2="1077.2" stroke="#008000" stroke-width="2.2"/>
<line x1="1731.8" y1="1078.8" x2="1826.1" y2="1078.8" stroke="#008000" stroke-width="2.2"/>
<line x1="1737.9" y1="1080.7" x2="1817.5" y2="1080.7" stroke="#008000" stroke-width="2.2"/>
<line x1="1725.6" y1="1081.9" x2="1899.0" y2="1081.9" stroke="#008000" stroke-width="2.2"/>
<line x1="1739.1" y1="1084.3" x2="1860.4" y2="1084.3" stroke="#008000" stroke-width="2.2"/>
<line x1="1780.8" y1="1086.2" x2="1881.2" y2="1086.2" stroke="#008000" stroke-width="2.2"/>
<line x1="1717.7" y1="1088.0" x2="1799.1" y2="1088.0" stroke="#008000" stroke-width="2.2"/>
<line x1="1744.0" y1="1089.8" x2="1805.3" y2="1089.8" stroke="#008000" stroke-width="2.2"/>
<line x1="1753.8" y1="1091.7" x2="1827.3" y2="1091.7" stroke="#008000" stroke-width="2.2"/>
<line x1="1729.3" y1="1094.1" x2="1793.0" y2="1094.1" stroke="#008000" stroke-width="2.2"/>
<line x1="1744.0" y1="1096.0" x2="1780.8" y2="1096.0" stroke="#008000" stroke-width="2.2"/>
<line x1="1720.7" y1="1097.8" x2="1854.3" y2="1097.8" stroke="#008000" stroke-width="2.2"/>
<line x1="1707.3" y1="994.9" x2="1723.2" y2="994.9" stroke="#0000ff" stroke-width="2.4"/>
<line x1="1708.5" y1="998.0" x2="1717.1" y2="998.0" stroke="#0000ff" stroke-width="2.4"/>
<line x1="1724.4" y1="997.6" x2="1745.2" y2="997.6" stroke="#0000ff" stroke-width="2.4"/>
<line x1="1702.4" y1="1004.7" x2="1739.1" y2="1004.7" stroke="#0000ff" stroke-width="2.4"/>
<line x1="1731.8" y1="1007.8" x2="1778.3" y2="1007.8" stroke="#0000ff" stroke-width="2.4"/>
<line x1="1703.6" y1="1012.1" x2="1730.5" y2="1012.1" stroke="#0000ff" stroke-width="2.4"/>
<line x1="1707.3" y1="1013.9" x2="1750.1" y2="1013.9" stroke="#0000ff" stroke-width="2.4"/>
<line x1="1708.5" y1="1016.3" x2="1731.8" y2="1016.3" stroke="#0000ff" stroke-width="2.4"/>
<line x1="1710.9" y1="1017.6" x2="1731.8" y2="1017.6" stroke="#0000ff" stroke-width="2.4"/>
<line x1="1708.5" y1="1022.8" x2="1732.4" y2="1022.8" stroke="#0000ff" stroke-width="2.4"/>
<line x1="1702.4" y1="1026.5" x2="1739.1" y2="1026.5" stroke="#0000ff" stroke-width="2.4"/>
<line x1="1731.8" y1="1029.0" x2="1741.6" y2="1029.0" stroke="#0000ff" stroke-width="2.4"/>
<line x1="1713.4" y1="1031.0" x2="1737.9" y2="1031.0" stroke="#0000ff" stroke-width="2.4"/>
<line x1="1704.2" y1="1036.3" x2="1720.7" y2="1036.3" stroke="#0000ff" stroke-width="2.4"/>
<line x1="1708.5" y1="1038.8" x2="1713.4" y2="1038.8" stroke="#0000ff" stroke-width="2.4"/>
<line x1="1702.4" y1="1042.9" x2="1727.5" y2="1042.9" stroke="#0000ff" stroke-width="2.4"/>
<line x1="1702.4" y1="1045.7" x2="1723.8" y2="1045.7" stroke="#0000ff" stroke-width="2.4"/>
<line x1="1710.9" y1="1047.6" x2="1719.5" y2="1047.6" stroke="#0000ff" stroke-width="2.4"/>
<line x1="1712.2" y1="1049.8" x2="1740.3" y2="1049.8" stroke="#0000ff" stroke-width="2.4"/>
<line x1="1708.5" y1="1053.7" x2="1725.6" y2="1053.7" stroke="#0000ff" stroke-width="2.4"/>
<line x1="1706.0" y1="1056.2" x2="1729.9" y2="1056.2" stroke="#0000ff" stroke-width="2.4"/>
<line x1="1707.3" y1="1058.6" x2="1719.5" y2="1058.6" stroke="#0000ff" stroke-width="2.4"/>
<line x1="1703.6" y1="1061.1" x2="1723.2" y2="1061.1" stroke="#0000ff" stroke-width="2.4"/>
<line x1="1703.6" y1="1063.5" x2="1735.4" y2="1063.5" stroke="#0000ff" stroke-width="2.4"/>
<line x1="1703.6" y1="1066.0" x2="1722.0" y2="1066.0" stroke="#0000ff" stroke-width="2.4"/>
<line x1="1703.6" y1="1068.4" x2="1719.5" y2="1068.4" stroke="#0000ff" stroke-width="2.4"/>
<line x1="1707.3" y1="1070.9" x2="1719.5" y2="1070.9" stroke="#0000ff" stroke-width="2.4"/>
<line x1="1707.3" y1="1073.3" x2="1725.0" y2="1073.3" stroke="#0000ff" stroke-width="2.4"/>
<line x1="1703.6" y1="1075.8" x2="1719.5" y2="1075.8" stroke="#0000ff" stroke-width="2.4"/>
<line x1="1703.6" y1="1078.2" x2="1717.1" y2="1078.2" stroke="#0000ff" stroke-width="2.4"/>
<line x1="1704.8" y1="1080.7" x2="1722.0" y2="1080.7" stroke="#0000ff" stroke-width="2.4"/>
<line x1="1704.8" y1="1083.1" x2="1720.7" y2="1083.1" stroke="#0000ff" stroke-width="2.4"/>
<line x1="1706.0" y1="1085.6" x2="1719.5" y2="1085.6" stroke="#0000ff" stroke-width="2.4"/>
<line x1="1704.8" y1="1088.0" x2="1722.0" y2="1088.0" stroke="#0000ff" stroke-width="2.4"/>
<line x1="1706.0" y1="1090.5" x2="1717.1" y2="1090.5" stroke="#0000ff" stroke-width="2.4"/>
<line x1="1704.8" y1="1092.9" x2="1715.8" y2="1092.9" stroke="#0000ff" stroke-width="2.4"/>
<line x1="1706.0" y1="1095.4" x2="1713.4" y2="1095.4" stroke="#0000ff" stroke-width="2.4"/>
<line x1="1703.6" y1="1097.8" x2="1719.5" y2="1097.8" stroke="#0000ff" stroke-width="2.4"/>
<polyline points="1754.5,1094.0 1768.2,1094.5 1730.6,1095.1 1729.3,1095.6 1733.4,1096.2 1764.0,1096.7 1750.6,1097.3 1730.3,1097.8 1765.1,1098.4 1764.3,1098.9 1735.2,1099.5 1755.5,1100.0 1779.4,1100.6 1765.8,1101.1 1767.7,1101.7 1745.6,1102.2 1757.2,1102.8 1731.8,1103.3 1786.9,1103.9 1767.6,1104.4 1744.4,1105.0 1785.4,1105.5 1729.9,1106.1 1754.5,1106.6 1746.6,1107.2 1748.7,1107.7 1768.6,1108.3 1728.4,1108.8 1751.0,1109.4 1769.4,1109.9 1762.0,1110.5 1750.2,1111.0 1745.4,1111.6 1761.0,1112.1 1763.4,1112.7 1732.9,1113.2 1755.4,1113.8 1768.4,1114.3 1744.8,1114.9 1752.3,1115.4 1749.5,1116.0 1752.2,1116.5 1786.7,1117.1 1745.0,1117.6 1763.6,1118.2 1761.2,1118.7 1761.8,1119.3 1749.9,1119.8 1753.8,1120.4 1764.4,1120.9 1759.9,1121.5 1763.9,1122.0 1745.7,1122.6 1748.5,1123.1 1766.9,1123.7 1744.8,1124.2 1768.4,1124.8 1766.2,1125.3 1747.7,1125.9 1747.6,1126.4 1738.0,1127.0 1739.5,1127.5 1753.0,1128.1 1748.3,1128.6 1761.4,1129.2 1755.3,1129.7 1765.7,1130.3 1758.1,1130.8 1776.2,1131.4 1767.4,1131.9 1752.9,1132.5 1754.8,1133.0 1755.9,1133.6 1745.3,1134.1 1763.2,1134.7 1755.5,1135.2 1763.4,1135.8 1773.8,1136.3 1759.5,1136.9 1746.9,1137.4 1753.9,1138.0 1757.6,1138.5 1773.1,1139.1 1749.4,1139.6 1759.2,1140.2 1762.0,1140.7 1736.4,1141.3 1752.8,1141.8 1742.2,1142.4 1746.1,1142.9 1753.9,1143.5 1745.4,1144.0 1751.2,1144.6 1745.1,1145.1 1756.0,1145.7 1763.3,1146.2 1746.9,1146.8 1749.2,1147.3 1748.5,1147.9 1747.0,1148.4 1762.0,1149.0 1751.7,1149.5 1755.5,1149.0 1753.5,1150.2 1752.7,1151.4 1751.1,1152.6 1750.9,1153.8 1748.6,1155.0 1747.5,1156.5 1747.1,1157.9 1744.9,1159.4 1745.1,1160.9 1746.1,1162.3 1742.6,1163.8 1742.3,1165.3 1743.9,1166.8 1741.0,1168.3 1741.2,1169.7 1742.8,1171.1 1741.7,1172.5 1740.1,1173.9 1739.2,1175.3 1739.4,1176.7 1738.9,1178.1 1740.0,1179.6 1740.0,1181.0 1738.9,1182.4 1739.1,1183.6 1739.0,1184.8 1738.6,1186.1 1738.5,1187.3 1737.0,1188.5 1741.5,1190.3 1750.9,1191.2 1752.5,1192.5 1758.2,1193.8 1734.7,1193.8 1742.0,1195.1 1750.3,1196.4" stroke="#008000" stroke-width="2.0"/>
<polyline points="1712.1,1093.0 1709.3,1094.0 1709.9,1095.0 1708.6,1096.0 1712.1,1097.0 1710.3,1098.0 1709.9,1099.0 1707.5,1100.0 1707.7,1101.0 1712.4,1102.0 1712.0,1103.0 1710.3,1104.0 1713.2,1105.0 1712.9,1106.0 1711.1,1107.0 1706.3,1108.0 1710.4,1109.0 1709.1,1110.0 1710.7,1111.0 1712.5,1112.0 1710.9,1113.0 1706.4,1114.0 1706.7,1115.0 1707.8,1116.0 1713.1,1117.0 1711.7,1118.0 1713.5,1119.0 1707.6,1120.0 1709.3,1121.0 1709.1,1122.0 1708.0,1123.0 1713.0,1124.0 1706.9,1125.0 1707.0,1126.0 1712.8,1127.0 1713.0,1128.0 1708.7,1129.0 1709.9,1130.0 1708.5,1131.0 1711.7,1132.0 1710.8,1133.0 1715.9,1134.0 1711.7,1135.0 1707.8,1136.0 1708.5,1137.0 1712.3,1138.0 1708.4,1139.0 1709.6,1140.0 1712.5,1141.0 1711.0,1142.0 1707.8,1143.0 1709.4,1144.0 1710.5,1145.0 1710.1,1146.0 1711.9,1147.0 1709.2,1148.0 1710.9,1149.0 1709.3,1150.0 1709.7,1151.5 1710.2,1153.0 1709.7,1154.5 1709.9,1156.0 1710.3,1157.5 1709.3,1159.0 1709.2,1160.5 1710.1,1162.0 1709.8,1163.5 1709.3,1165.0 1710.1,1166.5 1709.4,1168.0 1709.3,1169.5 1709.5,1171.0 1709.1,1172.5 1709.6,1174.0 1710.0,1175.5 1709.6,1177.0 1710.3,1178.5 1709.2,1180.0 1709.3,1181.5 1709.3,1183.0 1709.8,1184.5 1709.3,1186.0 1709.9,1187.5 1709.8,1188.5 1713.5,1191.5 1715.0,1194.0 1713.2,1196.5 1710.0,1193.5" stroke="#0000ff" stroke-width="2.0"/>
</g>
<rect x="1702.50" y="123.5" width="230.0" height="1075.00" fill="none" stroke="#000" stroke-width="1.2"/>
<rect x="1814.60" y="131.40" width="109.80" height="30.00" rx="3" fill="#fff" fill-opacity="0.8" stroke="#cccccc" stroke-opacity="0.8" stroke-width="1"/>
<line x1="1819.40" y1="145.00" x2="1852.10" y2="145.00" stroke="#0000ff" stroke-width="2.08"/>
<text x="1865.40" y="150.40" font-size="17.14" textLength="54.31" lengthAdjust="spacingAndGlyphs" fill="#000" >WVMR</text>
<rect x="1820.40" y="185.40" width="81.00" height="30.00" rx="3" fill="#fff" fill-opacity="0.8" stroke="#cccccc" stroke-opacity="0.8" stroke-width="1"/>
<line x1="1825.20" y1="199.00" x2="1857.90" y2="199.00" stroke="#008000" stroke-width="2.08"/>
<text x="1870.68" y="204.40" font-size="17.14" textLength="24.21" lengthAdjust="spacingAndGlyphs" fill="#000" >RH</text>
<text x="122.96" y="1247.80" font-size="22.51" textLength="194.84" lengthAdjust="spacingAndGlyphs" fill="#000" >Backsc. coeff. [Msr</text>
<text x="318.28" y="1241.00" font-size="15.68" textLength="19.61" lengthAdjust="spacingAndGlyphs" fill="#000" >−1</text>
<text x="345.54" y="1247.80" font-size="22.51" textLength="18.02" lengthAdjust="spacingAndGlyphs" fill="#000" >m</text>
<text x="364.68" y="1241.00" font-size="15.68" textLength="19.61" lengthAdjust="spacingAndGlyphs" fill="#000" >−1</text>
<text x="385.65" y="1247.80" font-size="22.51" textLength="7.10" lengthAdjust="spacingAndGlyphs" fill="#000" >]</text>
<text x="458.16" y="1247.80" font-size="22.51" textLength="194.54" lengthAdjust="spacingAndGlyphs" fill="#000" >Extinct. coeff. [Mm</text>
<text x="653.38" y="1241.00" font-size="15.68" textLength="19.50" lengthAdjust="spacingAndGlyphs" fill="#000" >−1</text>
<text x="674.29" y="1247.80" font-size="22.51" textLength="7.70" lengthAdjust="spacingAndGlyphs" fill="#000" >]</text>
<text x="803.83" y="1243.60" font-size="22.51" textLength="155.56" lengthAdjust="spacingAndGlyphs" fill="#000" >Lidar ratio [Sr]</text>
<text x="1119.86" y="1249.80" font-size="20.10" textLength="13.54" lengthAdjust="spacingAndGlyphs" fill="#000" font-style="italic" font-family="'Liberation Sans', sans-serif" >Å</text>
<text x="1133.43" y="1249.80" font-size="22.51" textLength="136.38" lengthAdjust="spacingAndGlyphs" fill="#000" >ngström Exp.</text>
<text x="1445.35" y="1243.40" font-size="22.51" textLength="120.17" lengthAdjust="spacingAndGlyphs" fill="#000" >Depol. ratio</text>
<text x="1733.10" y="1247.70" font-size="22.51" textLength="82.87" lengthAdjust="spacingAndGlyphs" fill="#000" >WVMR [</text>
<text x="1817.45" y="1247.70" font-size="20.50" textLength="11.33" lengthAdjust="spacingAndGlyphs" fill="#000" font-style="italic" font-family="'Liberation Sans', sans-serif" >g</text>
<text x="1833.00" y="1247.70" font-size="20.10" textLength="12.00" lengthAdjust="spacingAndGlyphs" fill="#000" font-family="'Liberation Sans', sans-serif" >∗</text>
<text x="1848.63" y="1247.70" font-size="20.50" textLength="22.25" lengthAdjust="spacingAndGlyphs" fill="#000" font-style="italic" font-family="'Liberation Sans', sans-serif" >kg</text>
<text x="1873.12" y="1240.50" font-size="14.28" textLength="17.72" lengthAdjust="spacingAndGlyphs" fill="#000" font-family="'Liberation Sans', sans-serif" >−1</text>
<text x="1894.41" y="1247.70" font-size="22.51" textLength="7.55" lengthAdjust="spacingAndGlyphs" fill="#000" >]</text>
<g transform="translate(102.8 722.3) rotate(-90)">
<text x="-0.75" y="0.00" font-size="22.51" textLength="123.59" lengthAdjust="spacingAndGlyphs" fill="#000" >Height [km]</text>
</g>
<text x="1729.37" y="92.40" font-size="22.51" textLength="175.73" lengthAdjust="spacingAndGlyphs" fill="#000" >Rel.Humidity [%]</text>
<rect x="195" y="1276" width="201" height="66" fill="#eff1f5"/>
<text x="200.02" y="1294.80" font-size="17.25" textLength="189.46" lengthAdjust="spacingAndGlyphs" fill="#000" >ref.H_355: 5.08-6.11 km</text>
<text x="200.02" y="1314.10" font-size="17.25" textLength="189.45" lengthAdjust="spacingAndGlyphs" fill="#000" >ref.H_532: 4.49-5.37 km</text>
<text x="200.02" y="1333.40" font-size="17.25" textLength="188.72" lengthAdjust="spacingAndGlyphs" fill="#000" >ref.H_1064: nan-nan km</text>
<rect x="1695" y="1274" width="165" height="27.8" fill="#eff1f5"/>
<text x="1700.50" y="1292.00" font-size="17.25" textLength="154.19" lengthAdjust="spacingAndGlyphs" fill="#000" >WV-calib.const.: 3.8</text>
<text x="1001.10" y="1327.80" font-size="14.90" textLength="87.76" lengthAdjust="spacingAndGlyphs" fill="#ff2020" font-weight="bold" >Preliminary</text>
<text x="1001.09" y="1342.80" font-size="14.90" textLength="59.37" lengthAdjust="spacingAndGlyphs" fill="#ff2020" font-weight="bold" >Results.</text>
<text x="1500.61" y="1331.80" font-size="12.43" textLength="105.63" lengthAdjust="spacingAndGlyphs" fill="#000" font-weight="bold" >© TROPOS 2025.</text>
<text x="1499.69" y="1343.80" font-size="12.43" textLength="138.13" lengthAdjust="spacingAndGlyphs" fill="#000" font-weight="bold" >CC BY SA 4.0 License.</text>
<rect x="662.2" y="1297.2" width="155.7" height="54.4" rx="2.5" fill="#b4bab4" stroke="#222" stroke-width="0.9"/>
<path d="M662.6500000000001 1335.9H817.4499999999999V1349.1q0 2.05 -2.05 2.05H664.7q-2.05 0 -2.05 -2.05Z" fill="#333"/>
<circle cx="689.3" cy="1322.4" r="23.2" fill="#b4bab4"/>
<circle cx="689.3" cy="1322.4" r="18.3" fill="#fff" stroke="#333" stroke-width="3.3"/>
<text x="689.6" y="1329.2" font-family="'Liberation Sans', sans-serif" font-weight="bold" font-size="21" text-anchor="middle" fill="#333" textLength="23" lengthAdjust="spacingAndGlyphs">cc</text>
<circle cx="744.2" cy="1316.6" r="13.8" fill="#fff" stroke="#333" stroke-width="2.6"/>
<circle cx="781.2" cy="1316.6" r="13.8" fill="#fff" stroke="#333" stroke-width="2.6"/>
<circle cx="744.2" cy="1308.9" r="1.9" fill="#333"/>
<path d="M740.3 1312.4h7.8v6.4h-1.6v7.4h-4.6v-7.4h-1.6z" fill="#333"/>
<path d="M776.9 1313.6a6.0 6.0 0 1 1 0.2 6.6" fill="none" stroke="#333" stroke-width="3.2"/>
<path d="M773.6 1313.0l3.6 4.0l3.6 -4.0z" fill="#333"/>
<text x="744.2" y="1348.6" font-family="'Liberation Sans', sans-serif" font-weight="bold" font-size="12" text-anchor="middle" fill="#fff">BY</text>
<text x="781.0" y="1348.6" font-family="'Liberation Sans', sans-serif" font-weight="bold" font-size="12" text-anchor="middle" fill="#fff">SA</text>
</svg></body></html>
